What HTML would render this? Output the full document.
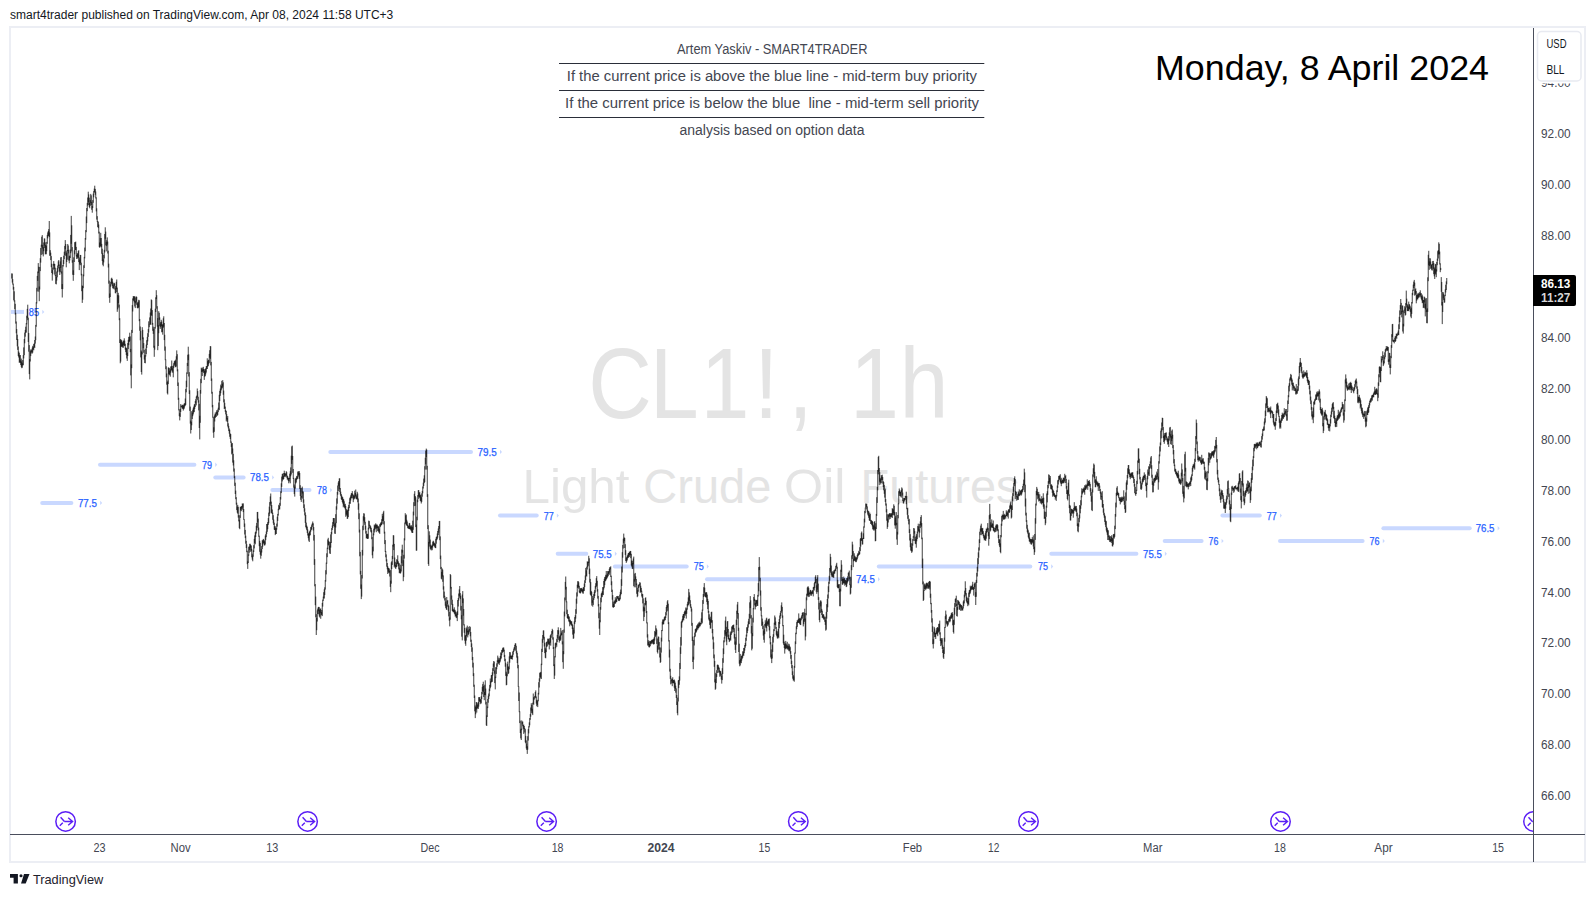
<!DOCTYPE html>
<html><head><meta charset="utf-8"><title>CL1! chart</title>
<style>
html,body{margin:0;padding:0;background:#fff;}
body{width:1595px;height:897px;overflow:hidden;}
svg{display:block;font-family:"Liberation Sans",sans-serif;}
</style></head><body>
<svg width="1595" height="897" viewBox="0 0 1595 897">
<defs>
<clipPath id="pane"><rect x="11" y="28" width="1522" height="806"/></clipPath>
</defs>
<rect width="1595" height="897" fill="#fff"/>
<!-- header -->
<text x="10" y="19" font-size="12" fill="#131722" textLength="383.3" lengthAdjust="spacingAndGlyphs">smart4trader published on TradingView.com, Apr 08, 2024 11:58 UTC+3</text>
<!-- frame -->
<rect x="10" y="27" width="1575" height="835" fill="none" stroke="#eceef4" stroke-width="2"/>
<!-- watermark -->
<g fill="#e4e4e4">
<text transform="scale(0.88,1)" x="668.5 738.4 795.9 856.9 895.8 931.8 965.9 1022.2" y="418.3" font-size="100">CL1!, 1h</text>
<text y="503" font-size="49"><tspan x="522.5" textLength="107" lengthAdjust="spacingAndGlyphs">Light</tspan> <tspan x="643.3" textLength="128" lengthAdjust="spacingAndGlyphs">Crude</tspan> <tspan x="784" textLength="61.5" lengthAdjust="spacingAndGlyphs">Oil</tspan> <tspan x="860.5" textLength="159" lengthAdjust="spacingAndGlyphs">Futures</tspan></text>
</g>
<!-- blue levels -->
<g clip-path="url(#pane)">
<rect x="10" y="309.9" width="14" height="4" fill="#c9d8ff"/>
<text x="28.8" y="315.8" font-size="10" fill="#2962ff" stroke="#2962ff" stroke-width="0.25" textLength="10.3" lengthAdjust="spacingAndGlyphs">85</text>
<path d="M42.3 309.7L44.3 311.9L42.3 314.1Z" fill="#c9d8ff"/>
<line x1="42.2" y1="502.9" x2="71.4" y2="502.9" stroke="#c9d8ff" stroke-width="4" stroke-linecap="round"/>
<text x="77.9" y="506.8" font-size="10" fill="#2962ff" stroke="#2962ff" stroke-width="0.25" textLength="19.1" lengthAdjust="spacingAndGlyphs">77.5</text>
<path d="M100.2 500.7L102.2 502.9L100.2 505.1Z" fill="#c9d8ff"/>
<line x1="100" y1="464.7" x2="194.4" y2="464.7" stroke="#c9d8ff" stroke-width="4" stroke-linecap="round"/>
<text x="202" y="468.6" font-size="10" fill="#2962ff" stroke="#2962ff" stroke-width="0.25" textLength="10" lengthAdjust="spacingAndGlyphs">79</text>
<path d="M215.2 462.5L217.2 464.7L215.2 466.9Z" fill="#c9d8ff"/>
<line x1="215.3" y1="477.4" x2="243.6" y2="477.4" stroke="#c9d8ff" stroke-width="4" stroke-linecap="round"/>
<text x="250" y="481.3" font-size="10" fill="#2962ff" stroke="#2962ff" stroke-width="0.25" textLength="19" lengthAdjust="spacingAndGlyphs">78.5</text>
<path d="M272.2 475.2L274.2 477.4L272.2 479.6Z" fill="#c9d8ff"/>
<line x1="272.4" y1="490.1" x2="309.5" y2="490.1" stroke="#c9d8ff" stroke-width="4" stroke-linecap="round"/>
<text x="317" y="494" font-size="10" fill="#2962ff" stroke="#2962ff" stroke-width="0.25" textLength="10" lengthAdjust="spacingAndGlyphs">78</text>
<path d="M330.2 487.9L332.2 490.1L330.2 492.3Z" fill="#c9d8ff"/>
<line x1="330.3" y1="451.9" x2="471" y2="451.9" stroke="#c9d8ff" stroke-width="4" stroke-linecap="round"/>
<text x="477.5" y="455.8" font-size="10" fill="#2962ff" stroke="#2962ff" stroke-width="0.25" textLength="19.3" lengthAdjust="spacingAndGlyphs">79.5</text>
<path d="M500 449.7L502 451.9L500 454.1Z" fill="#c9d8ff"/>
<line x1="500" y1="515.6" x2="536.7" y2="515.6" stroke="#c9d8ff" stroke-width="4" stroke-linecap="round"/>
<text x="543.7" y="519.5" font-size="10" fill="#2962ff" stroke="#2962ff" stroke-width="0.25" textLength="10" lengthAdjust="spacingAndGlyphs">77</text>
<path d="M556.9 513.4L558.9 515.6L556.9 517.8Z" fill="#c9d8ff"/>
<line x1="557.7" y1="553.8" x2="586.3" y2="553.8" stroke="#c9d8ff" stroke-width="4" stroke-linecap="round"/>
<text x="592.8" y="557.7" font-size="10" fill="#2962ff" stroke="#2962ff" stroke-width="0.25" textLength="18.9" lengthAdjust="spacingAndGlyphs">75.5</text>
<path d="M614.9 551.6L616.9 553.8L614.9 556Z" fill="#c9d8ff"/>
<line x1="614.9" y1="566.5" x2="686.7" y2="566.5" stroke="#c9d8ff" stroke-width="4" stroke-linecap="round"/>
<text x="693.7" y="570.4" font-size="10" fill="#2962ff" stroke="#2962ff" stroke-width="0.25" textLength="10" lengthAdjust="spacingAndGlyphs">75</text>
<path d="M706.9 564.3L708.9 566.5L706.9 568.7Z" fill="#c9d8ff"/>
<line x1="707" y1="579.2" x2="849.7" y2="579.2" stroke="#c9d8ff" stroke-width="4" stroke-linecap="round"/>
<text x="856" y="583.1" font-size="10" fill="#2962ff" stroke="#2962ff" stroke-width="0.25" textLength="18.8" lengthAdjust="spacingAndGlyphs">74.5</text>
<path d="M878 577L880 579.2L878 581.4Z" fill="#c9d8ff"/>
<line x1="878.8" y1="566.5" x2="1030.3" y2="566.5" stroke="#c9d8ff" stroke-width="4" stroke-linecap="round"/>
<text x="1038" y="570.4" font-size="10" fill="#2962ff" stroke="#2962ff" stroke-width="0.25" textLength="10" lengthAdjust="spacingAndGlyphs">75</text>
<path d="M1051.2 564.3L1053.2 566.5L1051.2 568.7Z" fill="#c9d8ff"/>
<line x1="1051.3" y1="553.8" x2="1136.4" y2="553.8" stroke="#c9d8ff" stroke-width="4" stroke-linecap="round"/>
<text x="1143.1" y="557.7" font-size="10" fill="#2962ff" stroke="#2962ff" stroke-width="0.25" textLength="18.6" lengthAdjust="spacingAndGlyphs">75.5</text>
<path d="M1164.9 551.6L1166.9 553.8L1164.9 556Z" fill="#c9d8ff"/>
<line x1="1164.7" y1="541" x2="1201.6" y2="541" stroke="#c9d8ff" stroke-width="4" stroke-linecap="round"/>
<text x="1208.6" y="544.9" font-size="10" fill="#2962ff" stroke="#2962ff" stroke-width="0.25" textLength="9.8" lengthAdjust="spacingAndGlyphs">76</text>
<path d="M1221.6 538.8L1223.6 541L1221.6 543.2Z" fill="#c9d8ff"/>
<line x1="1222.4" y1="515.6" x2="1259.8" y2="515.6" stroke="#c9d8ff" stroke-width="4" stroke-linecap="round"/>
<text x="1266.8" y="519.5" font-size="10" fill="#2962ff" stroke="#2962ff" stroke-width="0.25" textLength="10" lengthAdjust="spacingAndGlyphs">77</text>
<path d="M1280 513.4L1282 515.6L1280 517.8Z" fill="#c9d8ff"/>
<line x1="1280" y1="541" x2="1362.6" y2="541" stroke="#c9d8ff" stroke-width="4" stroke-linecap="round"/>
<text x="1369.6" y="544.9" font-size="10" fill="#2962ff" stroke="#2962ff" stroke-width="0.25" textLength="10" lengthAdjust="spacingAndGlyphs">76</text>
<path d="M1382.8 538.8L1384.8 541L1382.8 543.2Z" fill="#c9d8ff"/>
<line x1="1383.4" y1="528.3" x2="1469.7" y2="528.3" stroke="#c9d8ff" stroke-width="4" stroke-linecap="round"/>
<text x="1475.7" y="532.2" font-size="10" fill="#2962ff" stroke="#2962ff" stroke-width="0.25" textLength="18.8" lengthAdjust="spacingAndGlyphs">76.5</text>
<path d="M1497.7 526.1L1499.7 528.3L1497.7 530.5Z" fill="#c9d8ff"/>
</g>
<!-- price series -->
<g clip-path="url(#pane)" fill="none" stroke="#000" stroke-width="0.75">
<path d="M11.75 273.4V278.6M12.25 273.6V282.6M12.75 279.1V284.6M13.25 283.6V289.6M13.75 286.9V300.3M14.25 291.3V301.6M14.75 300.3V309.2M15.25 303.8V314.6M15.75 312.8V323.6M16.25 321.5V333.3M16.75 329.1V340M17.25 334.7V346.3M17.75 339V349.9M18.25 346.5V356M18.75 351.5V357.5M19.25 352.8V362.8M19.75 355.4V362.2M20.25 355V363M20.75 360.4V365M21.25 358.6V366.8M21.75 361.5V368.2M22.25 363.3V367.7M22.75 360V365.4M23.25 355.1V365.2M23.75 347.4V358.4M24.25 339V355.2M24.75 332.6V343.3M25.25 329.9V336.7M25.75 326.7V332.9M26.25 323.1V332.5M26.75 315.7V324.4M27.25 308.9V318.2M27.75 304.7V320.2M28.25 317.7V342M28.75 333V351.7M29.25 345.1V374.1M29.75 359.1V379.4M30.25 351.1V361.5M30.75 349.6V356.1M31.25 349.4V353.4M31.75 350.4V351.9M32.25 347.6V353.6M32.75 345.8V352.6M33.25 346.9V349.5M33.75 344V350.3M34.25 343.3V347.2M34.75 340V348M35.25 336.5V343.6M35.75 324.9V340.2M36.25 302.2V326.7M36.75 287.8V303.5M37.25 275.9V291.5M37.75 271.5V280.9M38.25 263.1V273.1M38.75 266.7V291.7M39.25 286.5V301.2M39.75 267V289.5M40.25 258.2V271.1M40.75 248V262.6M41.25 244.7V254.9M41.75 236.7V246.7M42.25 235.1V248.5M42.75 245.1V254.4M43.25 247.2V256.4M43.75 242.4V251.2M44.25 238.4V245.6M44.75 238.6V248M45.25 242.3V254.4M45.75 245V253.9M46.25 245.8V254.3M46.75 241.9V251.2M47.25 234.9V243.8M47.75 232.4V238.4M48.25 231V235.7M48.75 229.1V236.2M49.25 221V237M49.75 232.4V255.8M50.25 250.2V255.7M50.75 252.7V260.1M51.25 256.1V267.2M51.75 263.7V273M52.25 270.1V280.6M52.75 267.6V274.4M53.25 264V269.7M53.75 261.1V265.6M54.25 263.7V269M54.75 264V274.6M55.25 267.7V276.2M55.75 275V283.9M56.25 276.9V284.4M56.75 271.5V280.6M57.25 268.1V277.3M57.75 265.5V272.3M58.25 261.3V268.4M58.75 260V266M59.25 264.5V271.5M59.75 267.2V275M60.25 261.4V272.2M60.75 257.4V267.9M61.25 257V273.6M61.75 271.4V289.1M62.25 284.1V297.5M62.75 265V289.1M63.25 259.8V266.5M63.75 255.7V264M64.25 251.7V259.2M64.75 245.9V255.2M65.25 240.1V249.2M65.75 244V255.8M66.25 251.3V267.3M66.75 253.1V262M67.25 250V259.7M67.75 244V251.2M68.25 245.5V253.4M68.75 249.8V260.6M69.25 256.2V263.3M69.75 255.6V260.4M70.25 249.6V258M70.75 234.9V253.2M71.25 215.9V243.8M71.75 225.3V251.4M72.25 247.1V262.7M72.75 260.2V274.8M73.25 270.3V280.8M73.75 257.3V275M74.25 250.3V262M74.75 242.2V254.3M75.25 242.2V250.1M75.75 241.6V250M76.25 246.9V256.5M76.75 255V259M77.25 253.2V258.6M77.75 253.6V257.3M78.25 251.1V257.8M78.75 250.2V262.1M79.25 257.5V270.1M79.75 259.6V264.6M80.25 254.9V263.1M80.75 255V265.2M81.25 262.7V275.4M81.75 273.8V291.2M82.25 285.5V302.9M82.75 286V299.7M83.25 274.5V288.2M83.75 265.3V276.3M84.25 256.9V268M84.75 247.6V258.4M85.25 238V251.3M85.75 230.1V239.7M86.25 216.5V232.2M86.75 208V223.1M87.25 202.8V211.2M87.75 197.5V205.6M88.25 191.7V202.1M88.75 194.4V205M89.25 197.7V207.1M89.75 203V208.3M90.25 200.1V205.8M90.75 193.9V203M91.25 195.3V205.1M91.75 201.9V209.8M92.25 206V212.7M92.75 200.1V208M93.25 193.6V202.8M93.75 191.1V197.3M94.25 188.6V192.7M94.75 185.7V191.9M95.25 188.9V194.8M95.75 191.5V198.5M96.25 197.3V211.4M96.75 208.3V219.6M97.25 216.2V222.1M97.75 221.1V227M98.25 221.7V228.1M98.75 224.5V233.5M99.25 231.7V247.1M99.75 242.5V247.8M100.25 238.1V246.7M100.75 232.8V245.9M101.25 238V247.2M101.75 243.9V253.8M102.25 248.7V261M102.75 253.2V264.8M103.25 259.4V266.3M103.75 255V262.4M104.25 249.8V258.4M104.75 234V252.5M105.25 227.3V238.8M105.75 231.6V245.4M106.25 242.1V251.4M106.75 240.2V246.1M107.25 237.4V244.6M107.75 241.6V253.5M108.25 250.7V267.5M108.75 263.7V283.7M109.25 280.6V297.9M109.75 293.5V302.8M110.25 284.3V297M110.75 281.8V286.7M111.25 278.5V284.4M111.75 277.7V283.4M112.25 278.9V286M112.75 281.7V288.1M113.25 285.4V289.2M113.75 283.3V288.1M114.25 282.8V285.8M114.75 283.6V289.5M115.25 288.3V293.2M115.75 286.1V293.3M116.25 281.8V289.1M116.75 279.5V292M117.25 287.6V311.8M117.75 294.9V309.4M118.25 292.8V303.1M118.75 295.4V307.6M119.25 304.6V320.2M119.75 318.2V343M120.25 339.6V363.3M120.75 339V361.6M121.25 340.4V347M121.75 340.2V346.3M122.25 341.9V346.6M122.75 343.3V347.6M123.25 341.2V347.8M123.75 340.4V345.1M124.25 338.3V345.7M124.75 340.7V346.2M125.25 343.8V349.7M125.75 347.4V352.1M126.25 347.8V355.1M126.75 348.4V358.5M127.25 352.7V360.9M127.75 343.1V356M128.25 339.8V349.1M128.75 336.9V345.2M129.25 336.7V342M129.75 332.7V341.1M130.25 336.4V352.2M130.75 348.9V375.4M131.25 364.4V388.3M131.75 329.9V368.2M132.25 305.1V332.9M132.75 298.4V311.5M133.25 296V300.1M133.75 296.5V301.1M134.25 296.4V302.4M134.75 296.3V306.5M135.25 301.1V308.1M135.75 297.4V303.3M136.25 296.4V301.7M136.75 296.9V304.8M137.25 302.3V307.9M137.75 303.4V308.4M138.25 301.7V308.1M138.75 299.8V307.2M139.25 300.3V321.2M139.75 319V330.8M140.25 326.5V340.3M140.75 330.8V357.4M141.25 350.5V372M141.75 351.8V374.6M142.25 327.2V354.4M142.75 329.9V339.2M143.25 337.4V348.2M143.75 343.1V352.8M144.25 349.8V359.5M144.75 355.2V363M145.25 355.3V363.3M145.75 348.6V356.5M146.25 344.6V354.1M146.75 340.2V348M147.25 336.9V345M147.75 333.2V341.4M148.25 329.1V336.9M148.75 321.3V332.5M149.25 323.9V327.2M149.75 317.4V324.5M150.25 312.5V324M150.75 308.5V325M151.25 299.4V315M151.75 300.1V316M152.25 310.1V324.7M152.75 322.9V330.8M153.25 326.7V333.9M153.75 328.8V347.7M154.25 345.8V356.8M154.75 327V349.7M155.25 308.7V328.6M155.75 297.3V312M156.25 290.2V299.1M156.75 295.2V308.7M157.25 306.2V326.7M157.75 318.1V350.2M158.25 325.2V346M158.75 311.2V333.2M159.25 312.8V319.8M159.75 317.4V326.3M160.25 323.5V328.9M160.75 322V327.2M161.25 319.8V326M161.75 321.6V332.3M162.25 324.4V331.9M162.75 324.5V334.7M163.25 318.3V327.8M163.75 316.3V326.7M164.25 323V340.1M164.75 334.8V350.7M165.25 346.5V360.2M165.75 359.4V369.2M166.25 366.3V377.3M166.75 373.5V384.7M167.25 382V393.3M167.75 380.6V394.5M168.25 367.5V384.1M168.75 367.5V374.3M169.25 368.1V374.4M169.75 370.8V375.3M170.25 369.3V376.7M170.75 366.5V372.7M171.25 366.2V370.6M171.75 360.5V369.9M172.25 366.1V371.6M172.75 368.3V372.8M173.25 365.6V377.3M173.75 363.2V368.1M174.25 361.4V365.7M174.75 360.7V364.5M175.25 360.7V366.9M175.75 359.6V367.3M176.25 356.3V366.5M176.75 350.4V359.5M177.25 354.2V371.3M177.75 369.3V386M178.25 382.5V399.8M178.75 397.8V410.4M179.25 409.3V416.2M179.75 413.2V420.4M180.25 408.9V416.9M180.75 404.1V412.1M181.25 405.8V406.8M181.75 405.6V407.5M182.25 404.7V408.7M182.75 405.1V408.7M183.25 405.6V410.6M183.75 404.5V409.3M184.25 403.4V408.5M184.75 403.3V406.5M185.25 398.5V405.7M185.75 388.9V404.9M186.25 380.7V392.3M186.75 372.4V387.1M187.25 362.9V373.9M187.75 354.7V366M188.25 346.7V360.2M188.75 354.4V376.5M189.25 372.2V394M189.75 390.3V410.9M190.25 406.6V423.6M190.75 420.6V433.5M191.25 421.8V430M191.75 411.1V425.3M192.25 412.6V419M192.75 409.7V416.2M193.25 407.8V414.4M193.75 406.6V412.5M194.25 404.5V411.9M194.75 404.1V409M195.25 401.1V407M195.75 399.2V403.4M196.25 396.6V405.4M196.75 395.6V398.6M197.25 388.5V397.3M197.75 391.1V400.2M198.25 396.8V402.6M198.75 400.3V410.4M199.25 403.8V428M199.75 415.8V439.4M200.25 390V422.8M200.75 378.8V393.7M201.25 367.6V383.2M201.75 368.4V372M202.25 369.5V376M202.75 367.6V371.6M203.25 366.8V371.5M203.75 369V373M204.25 369.4V379.9M204.75 371V376.7M205.25 368.8V376.1M205.75 368.4V374.4M206.25 366.1V372.6M206.75 366.1V368.9M207.25 358.3V369M207.75 361.2V366.9M208.25 360.1V366M208.75 359.7V364.3M209.25 353.9V362.9M209.75 350.2V357.7M210.25 346.1V358.9M210.75 346.3V365.4M211.25 361.9V380.9M211.75 378.5V393.7M212.25 391.8V407.3M212.75 404.9V417.7M213.25 416.9V432.7M213.75 427.3V437.8M214.25 416.2V431.8M214.75 414.5V421.5M215.25 412.5V418M215.75 413.9V416.8M216.25 411.8V416.9M216.75 410.2V414M217.25 411.7V415.8M217.75 409.5V415.1M218.25 407.7V412.1M218.75 402.5V409.5M219.25 394.8V410.2M219.75 390.8V401.1M220.25 388.6V395.8M220.75 384.6V393.2M221.25 386V390.3M221.75 380.8V388.7M222.25 383.7V388.1M222.75 380.1V386.7M223.25 382.3V394.8M223.75 390.6V402.4M224.25 399.3V409M224.75 402.8V408.5M225.25 406.6V411.8M225.75 410V414.4M226.25 411V421.3M226.75 414.1V419.5M227.25 417.8V421.9M227.75 416V426.5M228.25 423.3V428.4M228.75 425.9V431.1M229.25 428.5V433.7M229.75 429.8V436.8M230.25 433.5V439M230.75 434.1V442.8M231.25 441.5V446.9M231.75 443.6V454.4M232.25 443V453.3M232.75 448.5V462.6M233.25 453.8V465.5M233.75 460.3V471.6M234.25 468.5V478.1M234.75 476.2V485.9M235.25 482.7V494M235.75 490.6V499.2M236.25 497.2V504.6M236.75 502.7V510.1M237.25 506.7V512.7M237.75 504.9V513.7M238.25 506.8V517.6M238.75 515.1V521.4M239.25 519.8V528.1M239.75 515.3V529.2M240.25 506.7V517.9M240.75 507V510.4M241.25 506.3V511.2M241.75 506V508.7M242.25 503.4V509.7M242.75 504.2V507.5M243.25 503.3V512.1M243.75 509V519.9M244.25 519.2V526.9M244.75 523.5V534.5M245.25 529.9V538.1M245.75 535.7V543.7M246.25 540.8V548M246.75 544.2V552.2M247.25 550.7V564.2M247.75 561.4V568.9M248.25 554.4V563M248.75 546.8V555.8M249.25 546.5V552.7M249.75 543.8V549.9M250.25 543.8V547.7M250.75 545V551.9M251.25 545.6V550.8M251.75 548.9V557.3M252.25 553.7V559.7M252.75 555.5V561.3M253.25 550.3V556.7M253.75 545.2V552M254.25 538.9V548.4M254.75 535.4V543.1M255.25 532.3V544.3M255.75 531.5V537M256.25 525.8V533.5M256.75 522.9V530.6M257.25 512V527.8M257.75 511.9V522.4M258.25 518.6V530.3M258.75 527.6V536.8M259.25 535.7V546.2M259.75 540.9V551.8M260.25 542.9V554.7M260.75 551.3V558.7M261.25 549V555.8M261.75 546.1V552.5M262.25 540.2V549M262.75 540.5V546.6M263.25 538.9V543.7M263.75 539.5V543.2M264.25 540.4V545.2M264.75 541.4V545.6M265.25 535.6V544.5M265.75 534.2V540.2M266.25 531.5V537.2M266.75 524V534.1M267.25 523.9V531.8M267.75 522.1V529.2M268.25 518.1V524.9M268.75 512.6V523.2M269.25 506.6V516.1M269.75 502.1V513.6M270.25 496.4V505.7M270.75 493.5V503.7M271.25 501.6V512.8M271.75 505V513.3M272.25 509.5V514.1M272.75 512.7V519.8M273.25 515.2V523.3M273.75 519.5V525M274.25 522.7V529.7M274.75 526.2V530M275.25 526.4V535.1M275.75 528.2V533.9M276.25 528.2V534M276.75 523.6V529.7M277.25 516.7V526.6M277.75 513.9V520.9M278.25 508.8V515.6M278.75 504.8V510.2M279.25 505.9V509.2M279.75 502.9V509.4M280.25 497V505.8M280.75 491.3V499.5M281.25 483.3V493.1M281.75 476.6V486.9M282.25 473.9V481.4M282.75 473.6V479.3M283.25 476.1V479.7M283.75 473V479M284.25 470.7V476.8M284.75 473V476.3M285.25 473.3V477.2M285.75 473.9V475.6M286.25 471.2V475.8M286.75 472.2V477.6M287.25 475.6V479.7M287.75 476.2V479.3M288.25 477.7V480.9M288.75 478V483.3M289.25 478V481.5M289.75 473.7V479M290.25 471.2V483.3M290.75 467.4V476.3M291.25 455.7V474.5M291.75 446.4V463.9M292.25 445.6V459.9M292.75 456V472.8M293.25 469V479M293.75 477.9V487.7M294.25 484.5V494.1M294.75 486.6V496.6M295.25 479.1V488.6M295.75 478.1V483.5M296.25 477.5V482.5M296.75 475.9V480.1M297.25 476.4V478.8M297.75 471.5V478.7M298.25 472.4V476.6M298.75 471.1V475.1M299.25 471.2V478.9M299.75 473V488.9M300.25 485.2V496M300.75 488.2V499.8M301.25 496V501.9M301.75 487.9V497.7M302.25 486.6V493.5M302.75 491.3V498.7M303.25 491.6V502.7M303.75 499.3V508.1M304.25 504.4V511.7M304.75 508.3V515.4M305.25 512.4V522.9M305.75 514.9V527.2M306.25 522.6V528.5M306.75 525.5V530.2M307.25 526.7V533M307.75 529.4V535.5M308.25 533.3V538.2M308.75 533.5V540.7M309.25 531.8V542M309.75 531.2V535.8M310.25 529.9V535.1M310.75 527.1V531.7M311.25 526.6V530.2M311.75 524.6V529.4M312.25 523.4V526.9M312.75 521.5V525.2M313.25 523.3V530.5M313.75 527.1V540.6M314.25 534.9V564.9M314.75 559.1V586.3M315.25 584.1V605.2M315.75 596.6V617.3M316.25 614.2V635M316.75 618V630.2M317.25 610.3V621.5M317.75 608.6V614M318.25 607.1V611.2M318.75 606.8V614.3M319.25 607.2V616.5M319.75 609.8V617.5M320.25 609V612.8M320.75 608.3V618.8M321.25 612V615.3M321.75 610V614.7M322.25 602.9V616.1M322.75 599.6V606.6M323.25 596.6V600.9M323.75 592.2V598.4M324.25 589.3V598.5M324.75 587.3V595M325.25 580.1V589.6M325.75 570.2V581.6M326.25 562.6V574.4M326.75 553.3V563.8M327.25 547.7V557.2M327.75 539.4V549M328.25 537.8V544.8M328.75 540.9V545.6M329.25 541.8V550.1M329.75 545.8V553.4M330.25 542V554M330.75 534.4V547.6M331.25 532V543M331.75 528.1V534.3M332.25 525.5V529.9M332.75 522.1V528M333.25 518.1V526.1M333.75 518V523.8M334.25 518.2V526.8M334.75 523.8V533.6M335.25 522.7V533.9M335.75 514.2V527.5M336.25 506.3V523.2M336.75 498.4V509.7M337.25 491.9V503.7M337.75 485.5V494.7M338.25 482.5V491.1M338.75 481V485.8M339.25 478.4V489.2M339.75 478.3V492M340.25 488V494.5M340.75 491.7V496.2M341.25 494V499.2M341.75 495.5V500M342.25 496.7V502M342.75 497.3V503.5M343.25 498.9V507.3M343.75 499.5V505.6M344.25 501.3V507.2M344.75 504.5V508.2M345.25 503.8V509.5M345.75 506V516.8M346.25 509V514.5M346.75 510.4V515.7M347.25 510.5V519M347.75 509.6V518.5M348.25 507.2V517M348.75 504.9V510.9M349.25 502.1V508.1M349.75 498.2V503.6M350.25 496.9V503.8M350.75 495.3V500.5M351.25 493.5V498.5M351.75 493V498M352.25 491.1V495.7M352.75 493.8V498.4M353.25 495.5V502.2M353.75 494.7V499.7M354.25 495.7V498.1M354.75 490.7V499.1M355.25 492.9V496.2M355.75 489.5V497.6M356.25 494.5V498.9M356.75 496.4V499.4M357.25 491.8V499.4M357.75 493.5V502.3M358.25 498.5V509.7M358.75 503.4V519.2M359.25 513.3V532.5M359.75 529.6V556.3M360.25 551.9V574.4M360.75 570.9V588.8M361.25 584.5V599.1M361.75 575V596.6M362.25 549.9V578.5M362.75 525.7V555.5M363.25 516.3V530.2M363.75 513.2V520.6M364.25 513.6V522.5M364.75 517.2V524.8M365.25 521.8V529.6M365.75 525.7V533.6M366.25 530.9V538.4M366.75 534V538M367.25 533.7V539M367.75 534.2V538.8M368.25 527.7V538.7M368.75 520.6V529.5M369.25 521.1V525.8M369.75 524.8V528.1M370.25 525.5V529M370.75 526.5V531.7M371.25 527.9V532.6M371.75 530.3V539.2M372.25 537.1V555.3M372.75 546.7V558.3M373.25 533.4V551.4M373.75 528.7V535.3M374.25 524.6V532.5M374.75 525.6V530.3M375.25 524.5V529M375.75 523.3V527.7M376.25 524.5V532.2M376.75 524.8V528.6M377.25 524.6V528M377.75 526.3V531.2M378.25 525.9V530.9M378.75 526.9V532.4M379.25 528.8V532.7M379.75 524.3V533.9M380.25 523.6V527.1M380.75 522.6V526.2M381.25 522.2V525.1M381.75 519.2V525.1M382.25 513.9V523.8M382.75 516.1V521M383.25 512.4V520.9M383.75 510.8V524.4M384.25 521.2V533.6M384.75 531.7V544.1M385.25 540.1V552M385.75 550.9V557.3M386.25 554.4V561.4M386.75 559.3V566.7M387.25 563V569.3M387.75 566.1V574M388.25 567.7V571.7M388.75 568V573.1M389.25 568.6V572.5M389.75 570.9V576.5M390.25 569.9V586.9M390.75 580.7V592.2M391.25 562.4V583.7M391.75 561.3V569M392.25 555.9V564.9M392.75 544.7V559M393.25 535.2V546.6M393.75 535.4V550.1M394.25 543.9V567.3M394.75 557.5V565.8M395.25 561.8V567.8M395.75 565V569M396.25 562.7V567.3M396.75 559.2V566.9M397.25 559.8V563.7M397.75 555.3V564.2M398.25 561.3V566.1M398.75 562.8V569.4M399.25 563.4V573.2M399.75 567.8V572.8M400.25 569.2V573.6M400.75 564.7V573.2M401.25 556.2V571.5M401.75 549.5V563.3M402.25 544.7V552.6M402.75 550.1V566.1M403.25 560.2V581.2M403.75 554.8V577.1M404.25 538.3V558.6M404.75 522.6V540.4M405.25 513.2V523.3M405.75 515.4V524.2M406.25 514.5V525.3M406.75 519.8V525.5M407.25 521.5V526.2M407.75 524.6V528.1M408.25 525.5V528.8M408.75 526V528.4M409.25 522.9V529.2M409.75 523.3V529.1M410.25 525.6V529.1M410.75 526.7V530.2M411.25 525.1V530.9M411.75 526.3V532.5M412.25 527.1V532.9M412.75 520.7V533M413.25 511.6V529.8M413.75 502.2V515.4M414.25 493.8V506.1M414.75 491.1V500.5M415.25 496V505.8M415.75 497.3V527.1M416.25 524.6V550.7M416.75 516.7V550.6M417.25 499.6V520.3M417.75 495.2V502.2M418.25 490.3V496.5M418.75 490V498.9M419.25 492.8V497.3M419.75 491.9V497.7M420.25 494.6V500.8M420.75 495.3V501.4M421.25 497.3V503.5M421.75 493.4V501.9M422.25 490.9V496.7M422.75 486.5V493.3M423.25 482.7V488.5M423.75 478.6V486M424.25 475.3V483.1M424.75 466.2V482.1M425.25 457.7V469.6M425.75 450.6V464.3M426.25 448.6V457M426.75 449.7V469.6M427.25 465.8V496.9M427.75 494.2V529.1M428.25 525.2V564M428.75 541.9V565.9M429.25 531.3V546.6M429.75 535.3V543.5M430.25 539.6V548.7M430.75 544.6V549.6M431.25 545.6V550.4M431.75 545.9V548.5M432.25 544.6V550.2M432.75 541.7V547.4M433.25 540.7V545.6M433.75 541.6V545.6M434.25 542.8V545.7M434.75 543.5V547.2M435.25 543.8V548M435.75 538.8V548.2M436.25 536.8V543.7M436.75 536.6V540.2M437.25 533.5V539.3M437.75 531V537.7M438.25 528.5V535M438.75 526V532.6M439.25 521.1V528.8M439.75 520.9V540.2M440.25 536.4V559.1M440.75 555.6V569.1M441.25 566.9V578.7M441.75 571.9V579.4M442.25 568.5V576.6M442.75 569.7V581.8M443.25 575.4V589.6M443.75 586.3V598.3M444.25 591.6V596.9M444.75 595.8V600.5M445.25 597.7V605.7M445.75 601.5V607.9M446.25 604.4V609.3M446.75 597V610M447.25 600.6V604M447.75 600.2V606.7M448.25 604.6V611.4M448.75 605.8V616.4M449.25 611.8V620.7M449.75 617.5V626.4M450.25 574V619.7M450.75 575.1V588.6M451.25 586.9V599.6M451.75 595.5V604.8M452.25 599.7V611M452.75 603.9V611.5M453.25 608.9V612.3M453.75 610V611.9M454.25 607.3V613.5M454.75 609.6V614.4M455.25 610.4V616.7M455.75 611.9V616.1M456.25 614.3V618.1M456.75 612.4V617.6M457.25 611.2V621.1M457.75 600V615M458.25 598V606.5M458.75 593.5V600.6M459.25 589.4V595.9M459.75 586V597.7M460.25 593.1V599.1M460.75 595.8V610.5M461.25 605.9V619.3M461.75 615.2V636.7M462.25 594.5V640.4M462.75 591.1V603.1M463.25 598.4V615.7M463.75 609V625.4M464.25 624.3V632.8M464.75 628V640.7M465.25 635.3V643.7M465.75 635.3V645.8M466.25 627.4V640.6M466.75 628.7V636.1M467.25 625.6V632.4M467.75 630.7V637.4M468.25 626.8V635.1M468.75 630.4V634M469.25 629V632.3M469.75 626.1V630.7M470.25 627.1V636.3M470.75 631.9V641.8M471.25 639.7V647M471.75 643.4V651.8M472.25 647.4V660.1M472.75 657V667.5M473.25 662.7V676.1M473.75 673.2V686.8M474.25 684.7V698M474.75 695.5V711.3M475.25 705.5V718.1M475.75 707V714.3M476.25 702V709.5M476.75 702.4V712.6M477.25 704.8V708.7M477.75 703.3V707.9M478.25 702V709M478.75 697.2V706.6M479.25 697.1V701.4M479.75 697.3V701.8M480.25 699V704.2M480.75 699.7V702.6M481.25 696.3V703.5M481.75 691.9V699.1M482.25 686.8V694.3M482.75 684.1V691.2M483.25 681.7V691.9M483.75 686V697M484.25 692V700.2M484.75 684.7V695M485.25 680.3V695.2M485.75 688.6V704.5M486.25 701.8V725.3M486.75 715.4V726M487.25 706.5V716.9M487.75 698.9V708.1M488.25 695.7V702.7M488.75 693.5V699M489.25 688.6V696.3M489.75 684.9V691.1M490.25 678.5V688.3M490.75 681.2V686.8M491.25 675.2V682.5M491.75 675V681.8M492.25 672.3V681.8M492.75 668.2V675.6M493.25 663.5V671M493.75 661V666.8M494.25 661.7V673.7M494.75 670.5V683.1M495.25 676.6V689.4M495.75 667.2V678.1M496.25 667.3V673.9M496.75 663.4V669.2M497.25 660.3V666.7M497.75 655.6V662.1M498.25 657.6V663.9M498.75 659.8V663.2M499.25 659.5V664.9M499.75 657.9V662.7M500.25 656V661.6M500.75 652.4V659.4M501.25 653.3V658.4M501.75 650V655.2M502.25 649.5V653.1M502.75 647.8V651.8M503.25 647.6V652.1M503.75 647.5V650.8M504.25 649.7V657M504.75 654.9V661.2M505.25 658.8V666.7M505.75 662.7V675.9M506.25 671.7V685.3M506.75 673.6V684.9M507.25 664.1V676.3M507.75 661.6V670.2M508.25 666.8V674.1M508.75 666.4V673.3M509.25 656.4V669.3M509.75 652V662.7M510.25 652.3V657.5M510.75 655.7V659.1M511.25 655.6V658.9M511.75 655.9V659M512.25 654.6V659.7M512.75 651.6V657.1M513.25 650.8V654.7M513.75 648.6V652M514.25 647V650.7M514.75 644.9V649.5M515.25 643.3V646.4M515.75 643.4V650.7M516.25 645.8V653.5M516.75 650.8V657.6M517.25 652.8V663.1M517.75 656.3V668.3M518.25 664.9V686.9M518.75 686.3V701M519.25 692.5V712.2M519.75 711.3V723.1M520.25 720.6V733M520.75 729.4V738.4M521.25 728.6V740M521.75 720.4V730.2M522.25 721.7V724.4M522.75 721.5V726.3M523.25 725V728.8M523.75 724.5V733.9M524.25 726V729.2M524.75 728.1V732.5M525.25 729.1V742.3M525.75 735.9V743.3M526.25 740.4V748.4M526.75 743.6V749.9M527.25 746.3V753.9M527.75 736.2V749.7M528.25 729.1V740.6M528.75 726.2V733.4M529.25 722.4V727.4M529.75 718.1V725.3M530.25 714.1V719.8M530.75 707.5V716.7M531.25 703.2V710.6M531.75 704.9V712.9M532.25 708.8V713.6M532.75 702.7V715.1M533.25 693.5V704.1M533.75 697.2V704.8M534.25 697.5V699.6M534.75 695.9V698.2M535.25 692V697.1M535.75 690.4V698.2M536.25 696.5V703.6M536.75 699.9V706.3M537.25 701.1V705.2M537.75 699.8V707.1M538.25 692.8V701.3M538.75 682.2V694.5M539.25 678.4V687.5M539.75 672.7V681.6M540.25 672.7V677.1M540.75 671.9V678.4M541.25 663.7V679M541.75 648.8V665.1M542.25 638.7V652M542.75 635V642.8M543.25 630.5V638.2M543.75 630.4V639.7M544.25 636.8V646.5M544.75 642.8V653.1M545.25 647.7V657.8M545.75 649.4V658.3M546.25 642.3V652.1M546.75 641.8V646.9M547.25 641.5V646.3M547.75 638.7V642.5M548.25 638.6V644.7M548.75 639.2V644.2M549.25 641.6V649.4M549.75 638.2V644.8M550.25 635.5V642.7M550.75 634.6V645.7M551.25 633.8V637.7M551.75 631.1V634.6M552.25 628.8V633.7M552.75 630.1V639.6M553.25 637.3V649M553.75 647V666.1M554.25 664.3V679M554.75 656.1V675.6M555.25 643.2V657.4M555.75 642.5V648.3M556.25 643.2V645.1M556.75 638.8V646.8M557.25 634.8V642.1M557.75 630.1V638.4M558.25 627.3V634.2M558.75 630.3V639.9M559.25 636.8V642.6M559.75 635.8V641M560.25 634.6V640.7M560.75 627.9V639.7M561.25 633.1V635.6M561.75 631.3V635M562.25 630V644.4M562.75 641.4V662.2M563.25 651.1V668.8M563.75 629.6V654.2M564.25 611.6V632.7M564.75 597.5V616.4M565.25 581.9V600.4M565.75 576.5V589.5M566.25 586.8V602.3M566.75 601.4V614.2M567.25 609.7V618M567.75 614.2V618.7M568.25 614.1V619.2M568.75 616.2V621.4M569.25 616.7V622.2M569.75 619.9V626.3M570.25 619.7V623.7M570.75 620.9V624.6M571.25 621.4V624.9M571.75 621.3V625.9M572.25 623.8V629M572.75 625.1V634.6M573.25 627.6V638.8M573.75 629.9V638.4M574.25 621.4V633.5M574.75 617.1V624.1M575.25 615.2V622.2M575.75 609.2V618.6M576.25 598.7V613.8M576.75 592.4V603.7M577.25 584.7V596.5M577.75 581.2V588M578.25 581.2V587M578.75 582.3V588.7M579.25 585.8V592.3M579.75 590.6V593.1M580.25 588.6V593.5M580.75 588.1V592.9M581.25 587.9V591.1M581.75 588.4V591.6M582.25 589.7V592.1M582.75 588.7V593.4M583.25 587.1V593.7M583.75 587.4V591.2M584.25 583.5V590.9M584.75 580.3V587.1M585.25 575.5V583M585.75 567.9V580.2M586.25 570.4V575.9M586.75 566.7V576.6M587.25 561.3V569.5M587.75 562V567.2M588.25 561.6V565.8M588.75 555.8V563.1M589.25 558.3V574.1M589.75 568.6V582.5M590.25 578.9V594.5M590.75 582.1V595.3M591.25 590.9V596.2M591.75 591.9V605.6M592.25 596V602.8M592.75 600.2V606.7M593.25 598.2V604.9M593.75 594.2V600M594.25 591.7V598.2M594.75 589.9V596M595.25 585.9V592.7M595.75 583.2V588.7M596.25 578.2V586.9M596.75 576.1V585.8M597.25 580.8V591.6M597.75 589.2V598.6M598.25 595.9V606.4M598.75 604V618.3M599.25 612.7V628.7M599.75 620V635M600.25 607V622.3M600.75 597.7V609.7M601.25 593.6V602.3M601.75 592.7V597.4M602.25 591.2V596.9M602.75 587.1V594.7M603.25 587.1V595.1M603.75 581V589.5M604.25 578.9V587.7M604.75 577.1V585.1M605.25 576.6V581.3M605.75 574.8V580.8M606.25 571V579.6M606.75 575.3V578.9M607.25 573.7V577.8M607.75 571.1V576.9M608.25 571V575.9M608.75 571.5V573.9M609.25 568.9V574.8M609.75 567.2V572.5M610.25 567.4V569.4M610.75 566.3V577M611.25 575.7V585.2M611.75 581.3V592M612.25 589.7V599.7M612.75 595.1V607.1M613.25 601.7V607.9M613.75 603.9V607.1M614.25 600.4V607M614.75 601.4V603.7M615.25 597.2V603.7M615.75 599.6V603.2M616.25 598.5V602.1M616.75 596V601.9M617.25 596.8V598.8M617.75 595.9V598.5M618.25 596.1V600.4M618.75 597.8V600.8M619.25 598.1V601.1M619.75 594.6V600.2M620.25 591.9V599.2M620.75 589.5V595.3M621.25 579.2V594M621.75 566.5V585.9M622.25 552.2V572.5M622.75 544.9V557.7M623.25 538.7V548.5M623.75 533.6V543.2M624.25 537.5V541.2M624.75 537.9V548M625.25 544.2V554.9M625.75 550.2V561M626.25 557.7V562.9M626.75 557.2V561.5M627.25 555.8V560.4M627.75 554.6V558.3M628.25 553V557.9M628.75 553V556.7M629.25 551.6V557.1M629.75 552.1V555.2M630.25 550.9V555.2M630.75 551V558.2M631.25 553.8V565.4M631.75 560.5V566.6M632.25 560.8V568.7M632.75 562.9V569.1M633.25 558.5V564.4M633.75 556.6V586.1M634.25 579.2V587.3M634.75 573.7V581.6M635.25 572.9V579.7M635.75 576.4V587.4M636.25 579V585.1M636.75 583.5V593.8M637.25 587.7V597.2M637.75 590.2V596.2M638.25 585.2V591.7M638.75 584.5V588M639.25 584.2V586.5M639.75 582.2V585.1M640.25 582.7V592.8M640.75 585.7V591.7M641.25 587.9V591.9M641.75 590.7V596.5M642.25 593.8V597.9M642.75 594.2V603.4M643.25 598.4V611.4M643.75 606.6V621.1M644.25 607.5V616.9M644.75 603.1V611.2M645.25 598V605.4M645.75 597.3V604.6M646.25 600.8V613.1M646.75 611V623.4M647.25 622.4V637.5M647.75 634.3V645.6M648.25 640.2V645.1M648.75 641.8V646.8M649.25 643.9V647.6M649.75 640.8V647M650.25 641V646M650.75 641.5V643.8M651.25 640.5V644.3M651.75 639.9V643.1M652.25 639.7V642.3M652.75 639.7V643.7M653.25 639.2V644.2M653.75 638.6V644.5M654.25 637.1V644M654.75 630.9V640.5M655.25 631.9V637.1M655.75 625.4V635.8M656.25 628.3V634.6M656.75 629.7V643.9M657.25 638.5V652.1M657.75 645.6V653.5M658.25 636.5V649.6M658.75 636.8V645.7M659.25 642.1V649.6M659.75 647.3V657.5M660.25 653.4V662.9M660.75 647.6V662.1M661.25 637.7V652.6M661.75 630V641.5M662.25 621.7V631.1M662.75 619.6V624.5M663.25 619.2V624.3M663.75 620V624.2M664.25 617.4V621.3M664.75 616.5V620.2M665.25 616.3V620.2M665.75 612.2V618M666.25 607V615.4M666.75 605.1V611.9M667.25 601.4V607.7M667.75 600.1V610.8M668.25 603.7V624.1M668.75 622.2V641.5M669.25 640.2V657.5M669.75 649.6V671.6M670.25 668.8V678.9M670.75 675.8V684.4M671.25 680.1V683.5M671.75 678.5V681.3M672.25 678.9V686.2M672.75 677.2V683M673.25 680.2V683M673.75 680V683.5M674.25 679.5V687.7M674.75 680.7V691M675.25 682.6V688.9M675.75 685.7V692.7M676.25 688.4V698M676.75 695V705M677.25 701.6V713.2M677.75 697.6V715.3M678.25 680.4V701.5M678.75 680V688.1M679.25 676.4V684.8M679.75 663V680.6M680.25 647.3V669M680.75 637.1V653.9M681.25 621.7V645.6M681.75 620.7V627.7M682.25 618.9V622.5M682.75 615.7V621.5M683.25 614V619.7M683.75 614V620.4M684.25 612.1V617.9M684.75 610.6V614.6M685.25 611.1V615.7M685.75 607.5V613.9M686.25 609.2V618.6M686.75 607.7V613.8M687.25 603.9V609.7M687.75 601.7V606.5M688.25 597.4V604.6M688.75 588.9V605.3M689.25 592.3V600.8M689.75 595.5V603.6M690.25 600.2V606.6M690.75 604.1V608.2M691.25 606.7V611.6M691.75 608.6V625.8M692.25 622.9V641M692.75 636.7V662M693.25 656.7V669.2M693.75 639.9V659.6M694.25 636.1V645.5M694.75 632.6V637.2M695.25 629.2V636.5M695.75 628.8V632.9M696.25 627.9V632.3M696.75 625.5V631.2M697.25 625.3V628.5M697.75 623.7V629.9M698.25 624.5V628.4M698.75 622.4V628.1M699.25 623V626M699.75 621.6V627.1M700.25 623.1V625.9M700.75 622.8V624.4M701.25 618.4V624.4M701.75 612.3V622.3M702.25 609.6V623.4M702.75 600.1V610.7M703.25 593.9V603.9M703.75 587.2V597M704.25 583.1V592.7M704.75 587.7V595.9M705.25 592.5V597M705.75 592.6V597.4M706.25 592.1V597.5M706.75 592.5V601.9M707.25 594.6V604.6M707.75 598.9V609.1M708.25 600.9V612.8M708.75 610.9V619.5M709.25 614.3V620.8M709.75 618.2V624.9M710.25 616.7V628.6M710.75 619.3V628.4M711.25 612.1V622.5M711.75 611.7V622.7M712.25 620.2V633.2M712.75 629V639.5M713.25 636.7V648.9M713.75 642.4V658.3M714.25 654.5V666.8M714.75 660.9V682.4M715.25 679.2V689.8M715.75 672.8V688.8M716.25 674.1V683.1M716.75 670.2V676.9M717.25 664.9V673M717.75 664.5V669.9M718.25 665.1V669.2M718.75 666.7V672.7M719.25 667.8V672.3M719.75 670.4V676.7M720.25 671.1V674.6M720.75 671.3V676.3M721.25 673.6V679.5M721.75 676V683.6M722.25 668.2V680.1M722.75 658.2V674M723.25 648.4V662.8M723.75 640.4V654.1M724.25 637.3V642.3M724.75 630.2V638.5M725.25 620.6V634.5M725.75 616.6V636.2M726.25 626.8V641.6M726.75 632V645.2M727.25 621.5V636.8M727.75 621V632.5M728.25 629V639.1M728.75 634.7V639.6M729.25 638.2V642.1M729.75 638.5V641.2M730.25 631.6V639.7M730.75 633.4V640.6M731.25 631.5V634.9M731.75 626.6V633.4M732.25 626.2V632.5M732.75 625.1V629.2M733.25 625V629.5M733.75 624.5V632.1M734.25 628.2V638.5M734.75 634V644.6M735.25 641.5V649.9M735.75 637.1V653M736.25 619.7V644.7M736.75 610.7V625M737.25 604.5V614M737.75 601.9V618.7M738.25 613.1V630.9M738.75 627.7V652M739.25 643.7V663.7M739.75 660.2V666.3M740.25 653.9V665.4M740.75 658.7V662.7M741.25 655.9V663.2M741.75 655.8V660.6M742.25 654.5V658.7M742.75 651.3V657.7M743.25 651.6V655.3M743.75 647.9V655.9M744.25 648V653.2M744.75 645V650.6M745.25 642.9V647.7M745.75 637.8V646M746.25 634.6V640.8M746.75 627.3V636.5M747.25 627.3V633.1M747.75 624.4V630.8M748.25 621.4V627.6M748.75 618.8V624.4M749.25 613.8V624.1M749.75 602.3V618.5M750.25 596.1V608.1M750.75 600.3V618.5M751.25 615.2V633.5M751.75 626V650.4M752.25 633.2V648.7M752.75 617.7V636.2M753.25 608.1V622.5M753.75 597V609.4M754.25 594.1V601.1M754.75 598.9V605.4M755.25 602.9V609.4M755.75 600V606.6M756.25 600.5V606.6M756.75 599.9V603.8M757.25 599.8V605.7M757.75 594.9V606M758.25 583.1V596.6M758.75 567.1V591.3M759.25 557.1V570.1M759.75 566.7V581.3M760.25 577.8V595.6M760.75 590.5V610.7M761.25 607.2V616.3M761.75 615.3V626.1M762.25 618.6V625M762.75 621.7V629.1M763.25 625.6V635.6M763.75 630.7V639.8M764.25 629.2V642.7M764.75 624.1V634.2M765.25 620.3V625.8M765.75 622.6V627.5M766.25 618.5V628.2M766.75 617.7V631.5M767.25 621.7V625.9M767.75 620.8V624.3M768.25 619.5V624.6M768.75 618.9V626.6M769.25 618.5V630.4M769.75 626.2V638.2M770.25 635.9V644.3M770.75 642.2V657.5M771.25 649.4V659M771.75 654.4V663.1M772.25 644.6V658.5M772.75 636.8V651.9M773.25 634.2V642.6M773.75 629.2V636.8M774.25 622.7V631.1M774.75 615.5V624.6M775.25 617.4V625.1M775.75 621.5V628.9M776.25 627V634.8M776.75 630.7V636.3M777.25 631.4V638.3M777.75 633.8V638.6M778.25 628.9V637M778.75 622V638.2M779.25 619V628.3M779.75 615.5V624.1M780.25 612.9V618.8M780.75 610.9V616.1M781.25 605.3V612.7M781.75 602.4V611.2M782.25 606.9V617.8M782.75 615.5V626.2M783.25 625V643.3M783.75 634.7V644.9M784.25 641.6V648M784.75 644.1V653.6M785.25 643.4V649.3M785.75 640.9V648.6M786.25 643.6V648.4M786.75 645.2V648.3M787.25 641.8V649.6M787.75 645.5V648.7M788.25 646.2V649.5M788.75 643.6V650.7M789.25 644.4V651.4M789.75 646.1V650.6M790.25 647.2V653.7M790.75 651.1V658.8M791.25 655V664.1M791.75 660.8V668.2M792.25 665.1V675M792.75 671.3V678.7M793.25 675.1V680.6M793.75 676.4V680.3M794.25 665.9V681.7M794.75 652.6V667.8M795.25 641.4V653.6M795.75 632.7V644.1M796.25 626.3V634.2M796.75 622.1V629.2M797.25 620.1V626.9M797.75 620.7V623.1M798.25 618.8V622.8M798.75 613.4V622.7M799.25 618.9V622.9M799.75 617.9V624.1M800.25 618.3V624.9M800.75 618.6V625.1M801.25 616.7V620.3M801.75 615.3V618.5M802.25 612.9V618.6M802.75 612.4V616.2M803.25 612.2V626.4M803.75 619.2V624.2M804.25 612.7V621.9M804.75 608.7V620.4M805.25 618.5V640.4M805.75 613V636.5M806.25 597.4V615.3M806.75 593.7V600.3M807.25 587.6V596.5M807.75 586.7V595.4M808.25 586.4V595.5M808.75 587.9V597.1M809.25 593V596.7M809.75 591.6V594.2M810.25 589.8V593.9M810.75 590.1V595.5M811.25 591.5V595.8M811.75 591.7V594.4M812.25 590.6V593.4M812.75 590.1V594.1M813.25 587.2V596.4M813.75 586.8V589.5M814.25 583.2V590.5M814.75 581.9V588M815.25 576.7V583.4M815.75 575.2V583.2M816.25 579V591.8M816.75 585.3V593.8M817.25 577.4V589.7M817.75 575.1V592.1M818.25 583.6V599.9M818.75 597.2V609.5M819.25 602.8V620.1M819.75 610.2V622.3M820.25 601.2V613M820.75 600.2V606.4M821.25 601.5V612M821.75 608.9V615M822.25 610.7V617.9M822.75 614.7V617.5M823.25 614.1V618.6M823.75 614.6V619.7M824.25 616.5V618.7M824.75 617.6V621.8M825.25 616.7V624.9M825.75 620V630.7M826.25 611.9V629.7M826.75 604.2V618.6M827.25 599V611.9M827.75 594.5V607.3M828.25 586.3V598.5M828.75 581.7V592.1M829.25 575.8V583.8M829.75 568V580.6M830.25 553.8V571.5M830.75 556.9V572.8M831.25 565.5V574.9M831.75 572.3V576.6M832.25 571.2V577.3M832.75 573.5V576.7M833.25 572V577.4M833.75 570.6V577.9M834.25 570.3V573.8M834.75 569.7V573.5M835.25 568.6V570.9M835.75 566.1V571.3M836.25 564.5V567.3M836.75 562.8V568.8M837.25 566.7V587.1M837.75 579.9V588.2M838.25 585V588.1M838.75 584V588.3M839.25 584.2V592.1M839.75 588.8V606.2M840.25 588.7V606.3M840.75 569.7V591.4M841.25 560.2V571.9M841.75 564.7V581M842.25 577.2V584.4M842.75 579V584.9M843.25 578.8V583.1M843.75 576.6V583.5M844.25 578.2V583.3M844.75 578.4V585.7M845.25 580.2V583.8M845.75 580.1V585M846.25 580.9V587.1M846.75 578.1V586.5M847.25 578V583.5M847.75 576.3V581.9M848.25 572.7V580.8M848.75 572.4V575.8M849.25 570.6V579.3M849.75 576.5V585.1M850.25 584.5V594.5M850.75 576.9V593.6M851.25 565.1V587.8M851.75 555.3V570.2M852.25 541.7V558.9M852.75 544.5V555.9M853.25 551.1V567.1M853.75 558.7V561.4M854.25 553.3V560.9M854.75 555.7V560.3M855.25 556.6V561.1M855.75 557.7V562.2M856.25 556.9V562.1M856.75 557.9V560.5M857.25 554.9V559.3M857.75 553.4V557.6M858.25 553.5V555.9M858.75 550.8V555.1M859.25 552V554.7M859.75 547.2V554.2M860.25 538.8V551.1M860.75 538V546.6M861.25 532.8V540.9M861.75 531.5V540.6M862.25 538.7V544.5M862.75 537.9V544.4M863.25 533.3V539M863.75 526.4V539M864.25 518.7V527.7M864.75 510.9V522.4M865.25 507.6V513.2M865.75 503.4V508.4M866.25 504V506.9M866.75 503.6V509.5M867.25 506.4V512.4M867.75 509.8V514.6M868.25 511.2V515.8M868.75 511.2V517.8M869.25 514.8V520.4M869.75 512.6V520.9M870.25 513.9V520.8M870.75 520.1V524M871.25 519.9V523.6M871.75 521.1V525M872.25 520.9V526.4M872.75 521.8V529.3M873.25 524.6V529.5M873.75 525.7V530.6M874.25 521.9V528.8M874.75 521.1V530.4M875.25 526.7V541.3M875.75 523.2V541M876.25 513.9V529M876.75 497.2V515.9M877.25 487V502.9M877.75 470V490.4M878.25 456.9V474.4M878.75 455.8V471.7M879.25 468V485.2M879.75 472.2V481.7M880.25 477.8V482.8M880.75 479.1V484.5M881.25 475V483.1M881.75 476.5V479.8M882.25 474.7V480.1M882.75 477.1V483.6M883.25 481.2V487M883.75 482.1V490.3M884.25 484.9V493.8M884.75 490V497.6M885.25 488.6V501.9M885.75 499.1V505.6M886.25 503.5V512.4M886.75 509.2V520.7M887.25 514.3V528.9M887.75 518.7V526.9M888.25 514.3V522.5M888.75 514.6V517.4M889.25 513.5V519.5M889.75 513.2V516.5M890.25 513.2V518.9M890.75 514.4V517M891.25 513.3V516.5M891.75 513.3V517.3M892.25 508.2V518M892.75 508.9V515M893.25 509.5V513.3M893.75 504.3V515.3M894.25 505.8V515.4M894.75 511.9V525.4M895.25 517.6V528.7M895.75 515.7V525.6M896.25 512.1V524.9M896.75 522.8V539.5M897.25 531.8V544.9M897.75 515V534.5M898.25 503.3V518.3M898.75 491.2V504.3M899.25 488.5V495.9M899.75 490.3V493.5M900.25 491.7V496.1M900.75 491.9V496.6M901.25 490.2V497.6M901.75 487.4V492.3M902.25 488.5V495.6M902.75 492.5V501.1M903.25 500.3V503.4M903.75 498.1V503.5M904.25 498.1V501.4M904.75 498V500.2M905.25 495.8V499.8M905.75 496.1V497.7M906.25 491.7V504.2M906.75 496.1V509.2M907.25 508.2V514.8M907.75 507.7V518.8M908.25 515.2V520.7M908.75 519.9V524.4M909.25 518.8V533M909.75 529.2V540.5M910.25 534.2V547.2M910.75 538.3V550.5M911.25 543.2V551.2M911.75 546.7V552.9M912.25 543.5V551.6M912.75 539.1V545.7M913.25 536.2V540.9M913.75 528V537.7M914.25 528.5V533.6M914.75 531.1V541M915.25 536.8V543.7M915.75 539.2V544.2M916.25 535.6V547.7M916.75 533.9V541.3M917.25 531.5V539.1M917.75 526.1V533.4M918.25 523.7V530.9M918.75 526.4V531.8M919.25 529.4V537.5M919.75 523.9V532.7M920.25 521.4V528.1M920.75 517V525.2M921.25 515.1V526.7M921.75 523.1V539.2M922.25 537.6V568M922.75 558.6V584.4M923.25 581.5V601M923.75 590.4V599.9M924.25 584.5V591M924.75 583.5V589M925.25 585.7V588.8M925.75 584.4V590.2M926.25 583.1V588.9M926.75 582.6V587.9M927.25 583.7V586.3M927.75 582.9V588.6M928.25 585.2V588.9M928.75 582V587.8M929.25 581.2V587.4M929.75 580.9V589.5M930.25 581.7V597.8M930.75 593.7V604.2M931.25 602.9V612.7M931.75 610V622.5M932.25 618.3V631.9M932.75 626.3V644.2M933.25 639.2V648.5M933.75 631.7V643.8M934.25 626.9V634.4M934.75 628.4V637.1M935.25 633V637.1M935.75 632.6V639M936.25 630.5V634.3M936.75 628.1V633.7M937.25 627.3V634.5M937.75 627.1V636.2M938.25 628.2V632.7M938.75 623.9V631.8M939.25 623.7V631.4M939.75 620.6V634.5M940.25 632.3V641M940.75 638.5V646.1M941.25 638.1V643.4M941.75 639.8V645.4M942.25 638.2V649M942.75 645.4V653M943.25 649.8V657.6M943.75 647V658.9M944.25 637.7V653.9M944.75 626.9V641.7M945.25 616.2V627.9M945.75 610.6V619.1M946.25 614.5V623.3M946.75 620.8V624.4M947.25 621V626.7M947.75 621.8V625.8M948.25 620.9V624.6M948.75 619.1V621.6M949.25 617.4V621.1M949.75 616.5V622.4M950.25 616.6V621.4M950.75 615.2V618.8M951.25 613.4V618.2M951.75 612.8V618.7M952.25 612.1V617.4M952.75 614V625.3M953.25 620.2V632.1M953.75 619.7V633.6M954.25 607.7V624.8M954.75 603.1V614.6M955.25 598.9V607M955.75 598.3V602.2M956.25 595.7V606M956.75 603.8V616M957.25 607.1V616.6M957.75 599.9V610.1M958.25 600.5V605M958.75 601.2V603.9M959.25 601.9V609.2M959.75 603.9V610M960.25 603.7V606.8M960.75 604.7V610.9M961.25 605V608.3M961.75 605.5V610.6M962.25 607.9V610.1M962.75 606.3V610.6M963.25 601.5V608.5M963.75 600.3V606.1M964.25 594.6V603.4M964.75 590.7V597.4M965.25 581.3V594.2M965.75 588V595.7M966.25 593.1V601.2M966.75 596.6V602.5M967.25 597.7V603.4M967.75 601V606.2M968.25 598.3V604M968.75 592.6V605.3M969.25 590.3V596.9M969.75 589.8V594.2M970.25 585.7V593.4M970.75 587.2V591.4M971.25 586.3V589.9M971.75 585.9V589.5M972.25 584.6V589M972.75 581.8V589.7M973.25 587.4V590M973.75 586.9V595.6M974.25 584V589M974.75 582.7V587.1M975.25 582.4V597M975.75 592.2V605M976.25 579.9V596.8M976.75 572.8V583M977.25 566.8V576.5M977.75 558.2V571.5M978.25 552.4V564.2M978.75 547.4V557.7M979.25 539.3V550.5M979.75 531.7V543M980.25 528.6V535.1M980.75 525.6V531.7M981.25 523.7V531.6M981.75 528.1V535.2M982.25 528.5V534M982.75 527.9V534.2M983.25 531.2V536.2M983.75 534.5V538.3M984.25 535.2V540.3M984.75 536.3V539.6M985.25 533.2V540.4M985.75 531.2V540.9M986.25 528.5V538.7M986.75 529.1V532.8M987.25 527.5V531.9M987.75 523.1V529.9M988.25 528.2V536.2M988.75 532.1V545.7M989.25 515.2V539.1M989.75 503.9V518.9M990.25 514.1V531.5M990.75 522.3V530.5M991.25 524.7V527.5M991.75 519.4V527.4M992.25 523.2V527.6M992.75 524V528M993.25 520.5V530.6M993.75 527V531.3M994.25 527.8V531.3M994.75 530.1V532.5M995.25 527.9V532M995.75 525.6V530.3M996.25 524.3V531.5M996.75 525.2V528.3M997.25 524.1V530.2M997.75 525.2V531.2M998.25 529.3V538.2M998.75 534.9V543M999.25 539V545.4M999.75 539.8V547.1M1000.25 543.4V552M1000.75 535V553.3M1001.25 523.7V537.3M1001.75 515.9V525.8M1002.25 514.5V521.4M1002.75 515.2V517.4M1003.25 510.9V519.1M1003.75 514.7V519.9M1004.25 514.9V519.1M1004.75 513.8V519.4M1005.25 515.5V517.2M1005.75 515.2V518.6M1006.25 510.3V516M1006.75 512.3V516.1M1007.25 511.2V516.8M1007.75 512.7V515.3M1008.25 509.9V518.6M1008.75 509.2V512.4M1009.25 509.3V513M1009.75 505.5V512.1M1010.25 503.4V509.2M1010.75 501.6V508.5M1011.25 505V518.5M1011.75 505.8V517.5M1012.25 496.4V510M1012.75 493.2V501.1M1013.25 486.7V496.1M1013.75 483.2V491.7M1014.25 478V484.2M1014.75 476.3V486.2M1015.25 479.2V499M1015.75 491V495.1M1016.25 492V496.7M1016.75 495.8V500.7M1017.25 496.3V498.6M1017.75 494.1V500M1018.25 491.4V499.9M1018.75 492.6V496M1019.25 489.3V495.4M1019.75 493.8V496.2M1020.25 490.3V494.9M1020.75 491V494.3M1021.25 489.8V495.6M1021.75 489.7V494.4M1022.25 489V492.5M1022.75 486V491.7M1023.25 483.8V489.8M1023.75 479.6V485.8M1024.25 468.7V484.9M1024.75 472.4V492.2M1025.25 484.7V506.5M1025.75 498.5V515.5M1026.25 512.7V521.8M1026.75 520.2V528.7M1027.25 524.8V532.2M1027.75 528.6V533.6M1028.25 530.3V537.3M1028.75 533.3V538.6M1029.25 532.6V541.4M1029.75 537.5V541.8M1030.25 538.9V543.8M1030.75 539.2V542.5M1031.25 539.4V544.9M1031.75 539.1V544M1032.25 537.1V542.1M1032.75 539.3V543.1M1033.25 535.4V546.5M1033.75 539.7V549.2M1034.25 546.7V554.9M1034.75 534V552.2M1035.25 518.2V539.9M1035.75 503.6V523.7M1036.25 490.9V505.5M1036.75 486.9V495.2M1037.25 488.7V495.4M1037.75 491.8V499.3M1038.25 493.9V498.2M1038.75 491.9V501.5M1039.25 498.5V500.4M1039.75 494.3V501M1040.25 498.4V503.3M1040.75 499.5V501.5M1041.25 499.2V503.6M1041.75 496.2V504.5M1042.25 499V503.1M1042.75 498V503.1M1043.25 493.3V506.7M1043.75 497.7V508.8M1044.25 504.4V518.8M1044.75 511.5V518.5M1045.25 517V525.2M1045.75 511.9V523.3M1046.25 505.7V516.8M1046.75 493.5V507.7M1047.25 491.2V502.4M1047.75 485V494.9M1048.25 481.2V488.3M1048.75 474.3V483.7M1049.25 475V482.4M1049.75 477.9V484.2M1050.25 476V486.1M1050.75 485.5V488.8M1051.25 484.2V489.6M1051.75 484.8V489.2M1052.25 485.9V492.8M1052.75 489.1V496.8M1053.25 490.2V495.6M1053.75 491.1V495.5M1054.25 493V496.7M1054.75 494.1V496.9M1055.25 495.2V499.7M1055.75 495.4V497.8M1056.25 495.1V500.9M1056.75 490.3V496.4M1057.25 485.5V492.1M1057.75 480.3V487.9M1058.25 479.7V484.5M1058.75 476V481.3M1059.25 475.6V479.1M1059.75 475.6V480M1060.25 474.2V482.4M1060.75 479.5V483.6M1061.25 477.8V486.2M1061.75 481.1V484M1062.25 479.5V482.8M1062.75 480V483.4M1063.25 477.7V482.8M1063.75 477.8V483.3M1064.25 478.3V482.5M1064.75 473.8V480.9M1065.25 476.2V478.3M1065.75 475.2V483M1066.25 478.9V488.7M1066.75 486V494M1067.25 489.6V499M1067.75 490.4V500.4M1068.25 482.7V494.2M1068.75 479.7V495.8M1069.25 494.3V508.1M1069.75 504.9V513.3M1070.25 505.7V520.4M1070.75 512.8V520.5M1071.25 508.7V515.9M1071.75 509.1V513.1M1072.25 509.4V513.8M1072.75 509.8V512.7M1073.25 510.3V517.7M1073.75 507.9V513.5M1074.25 502.2V511.1M1074.75 506.3V509.8M1075.25 506.9V510.1M1075.75 505.8V511.3M1076.25 506V512.1M1076.75 508.6V516.2M1077.25 512.7V526.1M1077.75 523.5V531.3M1078.25 523.4V532.3M1078.75 517.9V526.7M1079.25 514.6V522.2M1079.75 505V518.4M1080.25 505.8V513.3M1080.75 500.2V508.8M1081.25 495.7V505.4M1081.75 488.3V497.3M1082.25 491.1V494.4M1082.75 488.8V493.1M1083.25 488.9V491.3M1083.75 487.5V492.3M1084.25 488.3V492.3M1084.75 485.2V494.7M1085.25 486.2V489.7M1085.75 484.5V490M1086.25 485.5V488.8M1086.75 484.6V487.7M1087.25 479.4V486.2M1087.75 483.4V489.8M1088.25 481V485.9M1088.75 481.1V485.8M1089.25 480V485.2M1089.75 481.8V486.6M1090.25 483.9V491.6M1090.75 488.1V495.8M1091.25 492.1V501.7M1091.75 496.2V510.2M1092.25 489.4V511.1M1092.75 474.4V492.5M1093.25 468.3V476.8M1093.75 463.5V473.6M1094.25 464.7V478.3M1094.75 471.9V482.8M1095.25 479.4V487.2M1095.75 479.4V487.2M1096.25 476.3V483.8M1096.75 480.8V485M1097.25 482.6V485.8M1097.75 481.6V486.7M1098.25 482.9V490.9M1098.75 483.5V486M1099.25 483.1V488.4M1099.75 485.7V491M1100.25 489V493.6M1100.75 491.6V499.6M1101.25 492.5V497.1M1101.75 496V500.2M1102.25 491.2V507.2M1102.75 500.1V507.8M1103.25 504V512.7M1103.75 508.5V515.3M1104.25 512.8V517.7M1104.75 514.7V521.9M1105.25 516.2V524.7M1105.75 520.5V527.1M1106.25 521.2V530.5M1106.75 526.8V532.4M1107.25 528.1V534.8M1107.75 529.8V540M1108.25 530.4V536.8M1108.75 535.6V540.2M1109.25 535.4V539.9M1109.75 536.6V541.9M1110.25 539V541.8M1110.75 536V541.7M1111.25 537.1V543M1111.75 535.2V541.1M1112.25 538.5V546.2M1112.75 537.8V546.5M1113.25 534.4V544.7M1113.75 534.1V537.6M1114.25 533.8V538.6M1114.75 525.7V536.8M1115.25 514V529.1M1115.75 502.6V516.7M1116.25 492.8V507.4M1116.75 487.7V495.9M1117.25 486.2V494.9M1117.75 491.6V495M1118.25 492.8V496.5M1118.75 493.2V498.2M1119.25 497V500.6M1119.75 498V501M1120.25 498.6V504.4M1120.75 497V501.8M1121.25 498.2V502.4M1121.75 496.7V502M1122.25 498.4V500.3M1122.75 496.8V501.4M1123.25 497.7V499M1123.75 490.3V500.8M1124.25 496.4V504.9M1124.75 500.8V509.2M1125.25 505.3V513M1125.75 492.4V512.3M1126.25 482.5V500.7M1126.75 480.3V489.8M1127.25 475V484.7M1127.75 468.3V478.3M1128.25 465.1V473.9M1128.75 465V473.5M1129.25 469.3V475.1M1129.75 472.3V477.2M1130.25 473.9V479.2M1130.75 473.4V477.2M1131.25 473.2V477.9M1131.75 472.4V475.9M1132.25 472.6V477.7M1132.75 472.2V477.7M1133.25 475.4V478.7M1133.75 477.1V483M1134.25 479V486.6M1134.75 483.9V493M1135.25 486.9V494.3M1135.75 492.7V495.8M1136.25 489.7V494M1136.75 480.8V490.9M1137.25 470.9V484.1M1137.75 460.5V474.5M1138.25 448.5V462.5M1138.75 448.4V463.1M1139.25 458.7V474.1M1139.75 468.8V479.4M1140.25 476.9V483.5M1140.75 481.3V489.2M1141.25 484.4V489.9M1141.75 482.8V488.6M1142.25 479.1V484.5M1142.75 477.4V482.5M1143.25 475.7V481.8M1143.75 475.9V480.4M1144.25 472.4V478M1144.75 475.1V480M1145.25 474.4V478.4M1145.75 477.9V486.2M1146.25 482.6V491.1M1146.75 483.4V497.6M1147.25 476.1V484.9M1147.75 469.5V479.3M1148.25 471.8V475.6M1148.75 466.2V474.3M1149.25 467.2V475.9M1149.75 464V469.1M1150.25 461.4V467.8M1150.75 457.4V463.5M1151.25 456V468.9M1151.75 465.2V477.7M1152.25 474.7V484.9M1152.75 481.1V492.4M1153.25 482.3V492.2M1153.75 478.7V485.7M1154.25 477.8V481.7M1154.75 477.9V482.8M1155.25 475.6V481.2M1155.75 474.6V480.3M1156.25 476.2V480M1156.75 471.6V479M1157.25 473.2V476.9M1157.75 469V479.6M1158.25 476.6V489.7M1158.75 461.2V482.3M1159.25 454.5V463.6M1159.75 446.4V456.3M1160.25 442.5V451.5M1160.75 430.7V445.2M1161.25 428.3V438.4M1161.75 422.5V431.5M1162.25 417.7V426.3M1162.75 418V430.1M1163.25 427.1V438.1M1163.75 435.8V442M1164.25 433.2V443.8M1164.75 435.1V440.9M1165.25 433V439.9M1165.75 432.7V436.7M1166.25 432.4V438M1166.75 436.3V440.3M1167.25 437.7V441.8M1167.75 439V444.6M1168.25 438.7V444.1M1168.75 436.1V447M1169.25 432.4V440.6M1169.75 427.5V435.7M1170.25 426.9V437.6M1170.75 434.3V444M1171.25 436.1V444.9M1171.75 430.7V441.1M1172.25 429.5V438.6M1172.75 434.7V448.2M1173.25 445.1V454.4M1173.75 450V463.4M1174.25 459.1V466.1M1174.75 464.6V471.4M1175.25 468.7V472.3M1175.75 469.3V474M1176.25 471.6V474.9M1176.75 471.7V476.3M1177.25 472.9V477.6M1177.75 473.3V478.1M1178.25 470.7V478.7M1178.75 474.6V481.5M1179.25 479V483.5M1179.75 478.3V483.1M1180.25 479.4V484M1180.75 479.8V484.9M1181.25 472.7V483.4M1181.75 463.5V476.3M1182.25 469.4V481.4M1182.75 478V493.8M1183.25 485.9V496.6M1183.75 491.5V502.4M1184.25 473.9V498.4M1184.75 454.2V475.8M1185.25 451.7V471.6M1185.75 467.8V486.3M1186.25 481.3V486.3M1186.75 482V487.3M1187.25 482.5V487.1M1187.75 484V486.3M1188.25 484.1V489.4M1188.75 483.1V487M1189.25 482.9V484.8M1189.75 481.8V486.5M1190.25 481.1V484.2M1190.75 477.5V486M1191.25 476.3V481.7M1191.75 474.4V480.3M1192.25 467.8V475.9M1192.75 465.8V471.7M1193.25 464.2V468.4M1193.75 464.6V467M1194.25 462.5V468.2M1194.75 458.8V469.6M1195.25 448V461.9M1195.75 436.1V451.1M1196.25 419.5V439.1M1196.75 422.9V444.3M1197.25 441.5V453.7M1197.75 451.1V460.2M1198.25 455.6V461.6M1198.75 457.8V460.2M1199.25 457.1V459.7M1199.75 456.6V460.9M1200.25 457.2V461.7M1200.75 460.4V462.9M1201.25 460.3V464.6M1201.75 454.8V464.4M1202.25 458.5V463.7M1202.75 459.6V462.5M1203.25 458.2V463.4M1203.75 461.5V464M1204.25 461.8V469.7M1204.75 466.9V478.7M1205.25 472.7V479.8M1205.75 470.7V477.2M1206.25 471.8V480.8M1206.75 479.1V489.8M1207.25 478.1V490.2M1207.75 471.2V481.3M1208.25 457.8V473.3M1208.75 452.4V465.4M1209.25 452.8V456.7M1209.75 453.7V462.8M1210.25 456.7V459.7M1210.75 453.1V458.7M1211.25 453.3V458.3M1211.75 451.6V456.6M1212.25 451.6V455.3M1212.75 451.2V455.6M1213.25 451.4V456.4M1213.75 450.4V457.8M1214.25 450.2V454.5M1214.75 445.8V452.6M1215.25 446.4V451.5M1215.75 439.9V448.4M1216.25 437V448.4M1216.75 444.9V462.4M1217.25 459.1V474.4M1217.75 469.9V479.8M1218.25 477.6V482.4M1218.75 479.8V484.8M1219.25 484.1V491.3M1219.75 488.5V496.2M1220.25 492.5V499.8M1220.75 496.3V502.8M1221.25 489.7V499.3M1221.75 491.2V495.1M1222.25 490.2V496.4M1222.75 493V498.9M1223.25 495.2V502.2M1223.75 499.1V508.5M1224.25 501.7V508.8M1224.75 504.7V508.6M1225.25 502.7V513M1225.75 502.1V508.5M1226.25 498.7V504.7M1226.75 495.6V502.7M1227.25 488.9V499.4M1227.75 481.2V494.3M1228.25 480.4V488.7M1228.75 488.2V496.9M1229.25 493.6V504.4M1229.75 500.4V510M1230.25 506.7V521.3M1230.75 504.1V522.2M1231.25 492.6V509.1M1231.75 486.5V494.9M1232.25 485.8V488.9M1232.75 487.5V490.9M1233.25 488V490M1233.75 487.5V492.8M1234.25 486.4V491.6M1234.75 486.3V488.6M1235.25 486V488.1M1235.75 485.3V489.4M1236.25 487.8V489.2M1236.75 487.6V489.4M1237.25 487.3V490.8M1237.75 486.7V489.4M1238.25 483.2V491.9M1238.75 481.4V491.6M1239.25 473.7V484.3M1239.75 473.1V482.5M1240.25 478V492.6M1240.75 488.6V500.3M1241.25 496.1V508.4M1241.75 481V502M1242.25 471.5V484.9M1242.75 470.3V486.6M1243.25 483.4V495.9M1243.75 490.8V501.5M1244.25 498.7V505.2M1244.75 492.6V503.3M1245.25 491V496.8M1245.75 490.1V495.3M1246.25 487.8V493M1246.75 483.6V491.3M1247.25 487V491.6M1247.75 480.4V491.3M1248.25 481.1V493.8M1248.75 484.8V488M1249.25 483.1V487M1249.75 482.3V493.3M1250.25 488.5V502.9M1250.75 486.6V500.2M1251.25 478.1V491.3M1251.75 473V482.8M1252.25 466.7V479.8M1252.75 459.6V470.3M1253.25 456.2V466.3M1253.75 447.8V458M1254.25 444.1V451.3M1254.75 443.8V448.2M1255.25 444.5V448.4M1255.75 444V446.7M1256.25 442.5V446.1M1256.75 443.5V449.3M1257.25 443.2V448M1257.75 442.2V447.7M1258.25 443.9V446.1M1258.75 443.4V446.3M1259.25 441.9V446M1259.75 441.8V444.3M1260.25 441.4V445.3M1260.75 443.5V447.2M1261.25 440.4V447.6M1261.75 436.1V442.2M1262.25 433.5V439.6M1262.75 429.1V436.2M1263.25 428.6V430.9M1263.75 426.5V430.7M1264.25 421.6V430.4M1264.75 418.3V424.6M1265.25 410.6V422.6M1265.75 403.4V416M1266.25 396V408M1266.75 397.4V405.5M1267.25 398.3V408M1267.75 405.9V412.2M1268.25 408V412.3M1268.75 408.1V411.3M1269.25 407.4V411.4M1269.75 409.9V412.3M1270.25 408.2V414.3M1270.75 406.5V418.1M1271.25 410.4V412.6M1271.75 410.6V412.7M1272.25 410.9V413.9M1272.75 411.9V418.1M1273.25 414.1V422.5M1273.75 414V424.7M1274.25 421.6V426.3M1274.75 422.6V426.4M1275.25 422V429.8M1275.75 418.2V425.5M1276.25 410.6V421M1276.75 404.2V413M1277.25 403.6V412.8M1277.75 402.7V409M1278.25 405.5V414.6M1278.75 409.4V416.7M1279.25 415.9V422.8M1279.75 418.6V428.6M1280.25 420.8V427.1M1280.75 420.4V428.5M1281.25 418.4V422.8M1281.75 415V420.9M1282.25 412.7V420.5M1282.75 414.3V418.3M1283.25 414.4V419M1283.75 413.3V417.6M1284.25 408.2V417M1284.75 412.6V414.3M1285.25 411V415.3M1285.75 409.1V413.4M1286.25 409V416.3M1286.75 414.2V420.7M1287.25 411.1V420.6M1287.75 400.5V411.8M1288.25 395.2V404M1288.75 385.7V397.2M1289.25 383.2V391.4M1289.75 378.5V386.4M1290.25 377.1V380.7M1290.75 373.9V379.6M1291.25 374.9V381.6M1291.75 378.2V384.7M1292.25 379.6V390.4M1292.75 383V386M1293.25 382.6V388.4M1293.75 385.4V390.6M1294.25 386.2V388.4M1294.75 387.3V391.1M1295.25 388V391M1295.75 388.8V394.4M1296.25 384.1V394.4M1296.75 390.8V393.2M1297.25 389.3V393.8M1297.75 386.1V391.3M1298.25 378.6V390.7M1298.75 376.4V385.6M1299.25 366.1V379.1M1299.75 362.5V373M1300.25 358V367.1M1300.75 361.9V366.5M1301.25 363V371.4M1301.75 367V373.3M1302.25 371.5V376.9M1302.75 374.5V378.4M1303.25 373.8V378.5M1303.75 370.4V377.1M1304.25 374.2V377.1M1304.75 372.3V376M1305.25 371.8V375.5M1305.75 372.9V375.4M1306.25 373V376.9M1306.75 370.2V378.1M1307.25 372.7V381.2M1307.75 377V382.8M1308.25 379.9V385M1308.75 379.7V384.9M1309.25 381V389.3M1309.75 385.6V394.4M1310.25 390.7V400.5M1310.75 396.6V404.1M1311.25 400.5V409.8M1311.75 407V416.5M1312.25 411.3V419.6M1312.75 414.4V417.7M1313.25 407.6V423.2M1313.75 401.8V417.2M1314.25 400.8V404.5M1314.75 399.3V404.5M1315.25 398.5V401.1M1315.75 394.6V399.8M1316.25 394.3V399.4M1316.75 392.3V400M1317.25 391.3V396.2M1317.75 393.1V396.7M1318.25 392.4V396.2M1318.75 391.2V400.4M1319.25 389.4V394.2M1319.75 391.5V402.5M1320.25 398.7V410.1M1320.75 407V413.3M1321.25 409V414.4M1321.75 409.2V415.7M1322.25 407.8V414.7M1322.75 410.3V426.3M1323.25 423V433.1M1323.75 416.3V430.8M1324.25 411.7V419.7M1324.75 412.5V416.9M1325.25 409.9V416M1325.75 413.5V419.5M1326.25 414.3V420.4M1326.75 415.1V420.6M1327.25 418.4V424.6M1327.75 419.5V424.9M1328.25 423.8V428.2M1328.75 423.8V430.8M1329.25 423.9V428.1M1329.75 424.4V431.4M1330.25 419.2V426.4M1330.75 414.7V423.5M1331.25 411.4V417.1M1331.75 407.7V414.4M1332.25 404.1V411.8M1332.75 402.9V408.4M1333.25 402.1V409.2M1333.75 406.9V418.1M1334.25 410.8V419M1334.75 415.7V423M1335.25 418V426.7M1335.75 421.5V427.2M1336.25 419.3V424M1336.75 417.6V426.9M1337.25 415.4V420.9M1337.75 415.3V420.3M1338.25 409.8V419.6M1338.75 414V418.3M1339.25 411.6V418.6M1339.75 413.1V417.3M1340.25 411.6V416.4M1340.75 409.5V412.9M1341.25 407.7V412.1M1341.75 407.3V410.3M1342.25 401.9V408.5M1342.75 404.1V409M1343.25 404.3V415.6M1343.75 412.6V422.7M1344.25 409.9V420.4M1344.75 399.4V411.7M1345.25 379.5V401.1M1345.75 374.4V383.4M1346.25 378.4V386.8M1346.75 381.7V388.5M1347.25 385.2V390.6M1347.75 386.5V390.4M1348.25 387.3V389.5M1348.75 383.5V389.5M1349.25 386V388.7M1349.75 382.7V390.2M1350.25 382.9V388.1M1350.75 381.8V389.8M1351.25 383V393M1351.75 385.4V389.5M1352.25 386.7V389.9M1352.75 389.2V390.6M1353.25 390.1V391.7M1353.75 387.5V393.3M1354.25 387.1V390.8M1354.75 384.2V389.4M1355.25 380.8V387.2M1355.75 379.7V384.3M1356.25 378.5V383.2M1356.75 381.5V388.7M1357.25 386.4V394.1M1357.75 389.1V402.7M1358.25 396.7V403.3M1358.75 396.9V401.9M1359.25 394.9V401.1M1359.75 397.3V402.9M1360.25 398.4V408.5M1360.75 400.3V406.8M1361.25 404.2V410.8M1361.75 407.4V413.4M1362.25 407.9V414.7M1362.75 410.6V417.1M1363.25 414V415.4M1363.75 412.5V418.9M1364.25 414V416.8M1364.75 410.9V416.1M1365.25 411.2V421.6M1365.75 417.3V427.3M1366.25 418.4V426.3M1366.75 411.2V421.6M1367.25 409.8V415M1367.75 407.6V414.9M1368.25 406.8V412.9M1368.75 405.1V412.4M1369.25 402.9V407.9M1369.75 400.8V405.4M1370.25 399.5V402.4M1370.75 398.3V402.6M1371.25 397.8V401.7M1371.75 395.5V399.7M1372.25 394.9V400.7M1372.75 395V397.7M1373.25 393.8V396.9M1373.75 392.6V397.3M1374.25 391.4V394.8M1374.75 386.8V394.1M1375.25 390.7V394.9M1375.75 389.3V394.8M1376.25 388.9V394M1376.75 388.2V393.9M1377.25 389.5V394.8M1377.75 393.3V401.2M1378.25 382.4V397.8M1378.75 374.3V385.9M1379.25 366.8V377.3M1379.75 366.3V372.9M1380.25 366.9V382M1380.75 367.4V382.3M1381.25 356.1V371M1381.75 358.9V362.5M1382.25 356.7V360.3M1382.75 351.3V358.3M1383.25 355.1V366.1M1383.75 360.7V364.6M1384.25 356.8V363.3M1384.75 352.3V359.3M1385.25 349.4V357.2M1385.75 348.6V351.8M1386.25 346V349.6M1386.75 347.9V350.8M1387.25 346.4V350.7M1387.75 346.7V350.5M1388.25 347.1V361.9M1388.75 359.3V364.7M1389.25 352.8V361.7M1389.75 353V367.8M1390.25 364.5V374.4M1390.75 355.8V368M1391.25 345.1V358.2M1391.75 334.2V347.9M1392.25 324.2V337.1M1392.75 323.9V341.4M1393.25 339.6V341.8M1393.75 340.1V342.2M1394.25 340.2V343.4M1394.75 337.7V341M1395.25 335.9V342M1395.75 336.5V341.1M1396.25 333.6V337.7M1396.75 333.8V338.8M1397.25 334.5V335.9M1397.75 332.5V335.3M1398.25 330.5V334.9M1398.75 324.3V335.2M1399.25 316.8V329.1M1399.75 310.4V322.2M1400.25 305.1V315.1M1400.75 299V309.3M1401.25 302.9V314.2M1401.75 310.7V317.4M1402.25 305.6V312.2M1402.75 305.6V331.5M1403.25 323.8V333.6M1403.75 310.5V326.4M1404.25 309.6V313.2M1404.75 306.2V310.5M1405.25 307.5V315.6M1405.75 303.1V314.9M1406.25 290.6V305.1M1406.75 298.7V307.6M1407.25 304.2V311.2M1407.75 305.3V311M1408.25 306.7V310.8M1408.75 301.6V311.2M1409.25 304V308.8M1409.75 304.8V309.5M1410.25 306.3V311.9M1410.75 309.2V316.6M1411.25 307.7V318.2M1411.75 302V313.9M1412.25 292.9V303.5M1412.75 289.7V295.2M1413.25 284.6V290.9M1413.75 281.6V288M1414.25 279.9V285.9M1414.75 282.7V295.7M1415.25 289.3V294.9M1415.75 288.4V293.6M1416.25 291.1V303.3M1416.75 295.2V300.7M1417.25 294.8V299.1M1417.75 293.6V299.5M1418.25 292.8V298.2M1418.75 294.2V297.2M1419.25 293.5V297.4M1419.75 292.1V295.4M1420.25 290.3V295.5M1420.75 293.4V297.4M1421.25 293.2V299.2M1421.75 296.1V300.4M1422.25 294.6V303.2M1422.75 296.5V302.7M1423.25 299.9V308.1M1423.75 300.1V307.5M1424.25 296.6V302.4M1424.75 297.3V308.3M1425.25 303.8V316.4M1425.75 298.5V309.4M1426.25 298.1V312.1M1426.75 309.5V323.1M1427.25 308.3V323.3M1427.75 277.3V311.9M1428.25 254.8V281.2M1428.75 250.8V265.3M1429.25 261.4V269.8M1429.75 258.2V266.1M1430.25 258.4V264.7M1430.75 261.5V268.8M1431.25 264.3V268.5M1431.75 264.9V270.2M1432.25 263.9V270.5M1432.75 261.1V265.1M1433.25 260.9V268.8M1433.75 263.1V274.2M1434.25 267.4V276.3M1434.75 268.7V279M1435.25 263.9V273.6M1435.75 264.3V274.6M1436.25 269.3V277.2M1436.75 261.9V271.5M1437.25 258.7V265.2M1437.75 251.2V260.8M1438.25 250V258.5M1438.75 242.3V254.4M1439.25 243.8V254.3M1439.75 251.6V264.5M1440.25 263.3V272.2M1440.75 267.9V270.1"/><path d="M1441.25 277.1V291.8M1441.75 282V305.5M1442.25 302V324.1M1442.75 292V312M1443.25 292.4V298.4M1443.75 294.2V300.1M1444.25 298.4V302.7M1444.75 295.1V302.5M1445.25 289.3V296.1M1445.75 284.7V292.5M1446.25 281.4V290M1446.75 278V284.3"/>
</g>
<!-- icons -->
<g clip-path="url(#pane)">
<g transform="translate(65.6 821.4)" fill="none" stroke="#5b1ef5" stroke-width="1.5"><circle cx="0" cy="0" r="9.75"/><path d="M-1.2 0.1H7M2.6 -3.6L7 0.1L2.6 3.8M-5 -4.1L-1.2 0.1M-5.8 4.4L-2.8 1.4" stroke-width="1.4"/></g>
<g transform="translate(307.6 821.4)" fill="none" stroke="#5b1ef5" stroke-width="1.5"><circle cx="0" cy="0" r="9.75"/><path d="M-1.2 0.1H7M2.6 -3.6L7 0.1L2.6 3.8M-5 -4.1L-1.2 0.1M-5.8 4.4L-2.8 1.4" stroke-width="1.4"/></g>
<g transform="translate(546.6 821.4)" fill="none" stroke="#5b1ef5" stroke-width="1.5"><circle cx="0" cy="0" r="9.75"/><path d="M-1.2 0.1H7M2.6 -3.6L7 0.1L2.6 3.8M-5 -4.1L-1.2 0.1M-5.8 4.4L-2.8 1.4" stroke-width="1.4"/></g>
<g transform="translate(798.3 821.4)" fill="none" stroke="#5b1ef5" stroke-width="1.5"><circle cx="0" cy="0" r="9.75"/><path d="M-1.2 0.1H7M2.6 -3.6L7 0.1L2.6 3.8M-5 -4.1L-1.2 0.1M-5.8 4.4L-2.8 1.4" stroke-width="1.4"/></g>
<g transform="translate(1028.5 821.4)" fill="none" stroke="#5b1ef5" stroke-width="1.5"><circle cx="0" cy="0" r="9.75"/><path d="M-1.2 0.1H7M2.6 -3.6L7 0.1L2.6 3.8M-5 -4.1L-1.2 0.1M-5.8 4.4L-2.8 1.4" stroke-width="1.4"/></g>
<g transform="translate(1280.5 821.4)" fill="none" stroke="#5b1ef5" stroke-width="1.5"><circle cx="0" cy="0" r="9.75"/><path d="M-1.2 0.1H7M2.6 -3.6L7 0.1L2.6 3.8M-5 -4.1L-1.2 0.1M-5.8 4.4L-2.8 1.4" stroke-width="1.4"/></g>
<g transform="translate(1533.5 821.4)" fill="none" stroke="#5b1ef5" stroke-width="1.5"><circle cx="0" cy="0" r="9.75"/><path d="M-1.2 0.1H7M2.6 -3.6L7 0.1L2.6 3.8M-5 -4.1L-1.2 0.1M-5.8 4.4L-2.8 1.4" stroke-width="1.4"/></g>
</g>
<!-- text block -->
<g font-size="14" fill="#434651">
<text x="677" y="54" textLength="190.4" lengthAdjust="spacingAndGlyphs">Artem Yaskiv - SMART4TRADER</text>
<text x="566.8" y="81.4" textLength="410.2" lengthAdjust="spacingAndGlyphs">If the current price is above the blue line - mid-term buy priority</text>
<text x="565" y="108.4" textLength="414" lengthAdjust="spacingAndGlyphs">If the current price is below the blue &#160;line - mid-term sell priority</text>
<text x="679.5" y="135.4" textLength="185" lengthAdjust="spacingAndGlyphs">analysis based on option data</text>
</g>
<g stroke="#2a2e39" stroke-width="1">
<line x1="559" y1="63.5" x2="984.3" y2="63.5"/>
<line x1="559" y1="90.5" x2="984.3" y2="90.5"/>
<line x1="559" y1="117.5" x2="984.3" y2="117.5"/>
</g>
<!-- date -->
<text x="1155" y="79.7" font-size="35" fill="#000" textLength="334" lengthAdjust="spacingAndGlyphs">Monday, 8 April 2024</text>
<!-- axes -->
<line x1="1533.5" y1="28" x2="1533.5" y2="862" stroke="#4a4e5c" stroke-width="1"/>
<line x1="10" y1="834.5" x2="1585" y2="834.5" stroke="#4a4e5c" stroke-width="1"/>
<g font-size="12" fill="#434651">
<text x="1541" y="800" textLength="29.6" lengthAdjust="spacingAndGlyphs">66.00</text>
<text x="1541" y="749" textLength="29.6" lengthAdjust="spacingAndGlyphs">68.00</text>
<text x="1541" y="698" textLength="29.6" lengthAdjust="spacingAndGlyphs">70.00</text>
<text x="1541" y="647" textLength="29.6" lengthAdjust="spacingAndGlyphs">72.00</text>
<text x="1541" y="597" textLength="29.6" lengthAdjust="spacingAndGlyphs">74.00</text>
<text x="1541" y="546" textLength="29.6" lengthAdjust="spacingAndGlyphs">76.00</text>
<text x="1541" y="495" textLength="29.6" lengthAdjust="spacingAndGlyphs">78.00</text>
<text x="1541" y="444" textLength="29.6" lengthAdjust="spacingAndGlyphs">80.00</text>
<text x="1541" y="393" textLength="29.6" lengthAdjust="spacingAndGlyphs">82.00</text>
<text x="1541" y="342" textLength="29.6" lengthAdjust="spacingAndGlyphs">84.00</text>
<text x="1541" y="291" textLength="29.6" lengthAdjust="spacingAndGlyphs">86.00</text>
<text x="1541" y="240" textLength="29.6" lengthAdjust="spacingAndGlyphs">88.00</text>
<text x="1541" y="189" textLength="29.6" lengthAdjust="spacingAndGlyphs">90.00</text>
<text x="1541" y="138" textLength="29.6" lengthAdjust="spacingAndGlyphs">92.00</text>
<text x="1541" y="87" textLength="29.6" lengthAdjust="spacingAndGlyphs">94.00</text>
</g>
<g font-size="12" fill="#434651">
<text x="93.5" y="852" textLength="12.1" lengthAdjust="spacingAndGlyphs">23</text>
<text x="170.5" y="852" textLength="20.1" lengthAdjust="spacingAndGlyphs">Nov</text>
<text x="266.3" y="852" textLength="12.1" lengthAdjust="spacingAndGlyphs">13</text>
<text x="420.6" y="852" textLength="19" lengthAdjust="spacingAndGlyphs">Dec</text>
<text x="551.7" y="852" textLength="11.8" lengthAdjust="spacingAndGlyphs">18</text>
<text x="647.5" y="852" textLength="27.1" lengthAdjust="spacingAndGlyphs" font-weight="bold">2024</text>
<text x="758.6" y="852" textLength="11.6" lengthAdjust="spacingAndGlyphs">15</text>
<text x="902.8" y="852" textLength="19.3" lengthAdjust="spacingAndGlyphs">Feb</text>
<text x="988.1" y="852" textLength="11.3" lengthAdjust="spacingAndGlyphs">12</text>
<text x="1143.1" y="852" textLength="19.3" lengthAdjust="spacingAndGlyphs">Mar</text>
<text x="1274" y="852" textLength="11.8" lengthAdjust="spacingAndGlyphs">18</text>
<text x="1374.3" y="852" textLength="18.3" lengthAdjust="spacingAndGlyphs">Apr</text>
<text x="1492.2" y="852" textLength="11.8" lengthAdjust="spacingAndGlyphs">15</text>
</g>
<!-- unit box -->
<rect x="1535" y="28" width="49" height="55.5" fill="#fff"/>
<rect x="1537.5" y="31.5" width="43.5" height="49.5" rx="4" fill="#fff" stroke="#e8eaf1" stroke-width="1.5"/>
<g font-size="12" fill="#131722">
<text x="1546.5" y="47.5" textLength="20" lengthAdjust="spacingAndGlyphs">USD</text>
<text x="1546.5" y="73.5" textLength="18" lengthAdjust="spacingAndGlyphs">BLL</text>
</g>
<!-- last price label -->
<path d="M1533 275H1574a2 2 0 0 1 2 2V304a2 2 0 0 1 -2 2H1533Z" fill="#000"/>
<g font-size="12" font-weight="bold">
<text x="1541" y="288" fill="#fff" textLength="29.4" lengthAdjust="spacingAndGlyphs">86.13</text>
<text x="1541" y="302" fill="#d6d6d6" textLength="29.4" lengthAdjust="spacingAndGlyphs">11:27</text>
</g>
<!-- logo -->
<g fill="#131722">
<path d="M10 874.1H17.9V883.6H13.6V877.7H10Z"/>
<circle cx="21" cy="875.7" r="1.55"/>
<path d="M24 874.1H29.5L25.7 883.6H21Z"/>
</g>
<text x="32.9" y="883.6" font-size="12.4" fill="#1e222d" textLength="70.4" lengthAdjust="spacingAndGlyphs">TradingView</text>
</svg>
</body></html>
